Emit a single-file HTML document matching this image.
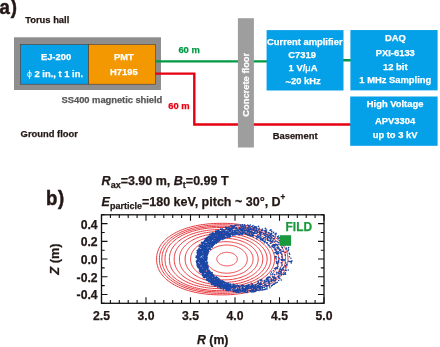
<!DOCTYPE html>
<html><head><meta charset="utf-8"><style>
html,body{margin:0;padding:0;background:#fff;}
svg{display:block;font-family:"Liberation Sans", sans-serif;will-change:transform;}
</style></head><body>
<svg width="440" height="347" viewBox="0 0 440 347">
<text transform="translate(-0.4 14.0) scale(0.93 1)" font-size="20" font-weight="bold" fill="#231815" stroke="#231815" stroke-width="0.5" letter-spacing="1.0">a)</text>
<text x="25.2" y="23" font-size="9.4" font-weight="bold" fill="#231815" stroke="#231815" stroke-width="0.25">Torus hall</text>
<text x="20.6" y="136.6" font-size="9.4" font-weight="bold" fill="#231815" stroke="#231815" stroke-width="0.25">Ground floor</text>
<text x="272.7" y="139" font-size="9.4" font-weight="bold" fill="#231815" stroke="#231815" stroke-width="0.25">Basement</text>
<rect x="14" y="37.3" width="147" height="52.7" fill="#8e8e8e"/>
<rect x="20.4" y="44.5" width="68.2" height="39.7" fill="#04a0e8" stroke="#4a3c36" stroke-width="0.6"/>
<rect x="88.6" y="44.5" width="66.7" height="39.7" fill="#f39800" stroke="#4a3c36" stroke-width="0.6"/>
<text x="56" y="59.7" font-size="9.4" font-weight="bold" fill="#fff" text-anchor="middle" stroke="#fff" stroke-width="0.25">EJ-200</text>
<text x="55" y="77.2" font-size="9.4" font-weight="bold" fill="#fff" text-anchor="middle" stroke="#fff" stroke-width="0.25"><tspan font-weight="normal" stroke-width="0" font-size="8.8">ϕ</tspan> 2 in., t 1 in.</text>
<text x="123.8" y="59.6" font-size="9.4" font-weight="bold" fill="#fff" text-anchor="middle" stroke="#fff" stroke-width="0.25">PMT</text>
<text x="123.8" y="75.2" font-size="9.4" font-weight="bold" fill="#fff" text-anchor="middle" stroke="#fff" stroke-width="0.25">H7195</text>
<text x="61.6" y="103" font-size="9.4" font-weight="bold" fill="#595757" textLength="100.7" lengthAdjust="spacing" stroke="#595757" stroke-width="0.25">SS400 magnetic shield</text>
<path d="M155 61.45H267M343 60.25H351" stroke="#009944" stroke-width="2.3" fill="none"/>
<path d="M155 73.6H194.3V124.45H351" stroke="#e60012" stroke-width="2.4" fill="none"/>
<text x="178.4" y="52.7" font-size="9.4" font-weight="bold" fill="#009944" stroke="#009944" stroke-width="0.25">60 m</text>
<text x="168.3" y="109" font-size="9.4" font-weight="bold" fill="#e60012" stroke="#e60012" stroke-width="0.25">60 m</text>
<rect x="237.9" y="18.2" width="16" height="129.3" fill="#9e9e9e"/>
<text transform="translate(249.3 84.8) rotate(-90)" font-size="9.4" font-weight="bold" fill="#fff" text-anchor="middle" stroke="#fff" stroke-width="0.25">Concrete floor</text>
<rect x="266.6" y="30.1" width="76.9" height="60.4" fill="#04a0e8"/>
<text x="304.8" y="44.7" font-size="9.4" font-weight="bold" fill="#fff" text-anchor="middle" stroke="#fff" stroke-width="0.25">Current amplifier</text>
<text x="302.1" y="57.7" font-size="9.4" font-weight="bold" fill="#fff" text-anchor="middle" stroke="#fff" stroke-width="0.25">C7319</text>
<text x="303" y="71.2" font-size="9.4" font-weight="bold" fill="#fff" text-anchor="middle" stroke="#fff" stroke-width="0.25">1 V/<tspan font-weight="normal">μ</tspan>A</text>
<text x="303.1" y="84.4" font-size="9.4" font-weight="bold" fill="#fff" text-anchor="middle" stroke="#fff" stroke-width="0.25"><tspan dy="0.7">~</tspan><tspan dy="-0.7">20 kHz</tspan></text>
<rect x="350.4" y="30.05" width="87.2" height="60.3" fill="#04a0e8"/>
<text x="395.3" y="41.2" font-size="9.4" font-weight="bold" fill="#fff" text-anchor="middle" stroke="#fff" stroke-width="0.25">DAQ</text>
<text x="395.3" y="55.7" font-size="9.4" font-weight="bold" fill="#fff" text-anchor="middle" stroke="#fff" stroke-width="0.25">PXI-6133</text>
<text x="395.3" y="69.5" font-size="9.4" font-weight="bold" fill="#fff" text-anchor="middle" stroke="#fff" stroke-width="0.25">12 bit</text>
<text x="395.3" y="83.4" font-size="9.4" font-weight="bold" fill="#fff" text-anchor="middle" stroke="#fff" stroke-width="0.25">1 MHz Sampling</text>
<rect x="350.2" y="96.5" width="87.4" height="49.3" fill="#04a0e8"/>
<text x="395.1" y="107.3" font-size="9.4" font-weight="bold" fill="#fff" text-anchor="middle" stroke="#fff" stroke-width="0.25">High Voltage</text>
<text x="395.1" y="123.6" font-size="9.4" font-weight="bold" fill="#fff" text-anchor="middle" stroke="#fff" stroke-width="0.25">APV3304</text>
<text x="395.1" y="137.5" font-size="9.4" font-weight="bold" fill="#fff" text-anchor="middle" stroke="#fff" stroke-width="0.25">up to 3 kV</text>
<text transform="translate(45.9 204.8) scale(0.93 1)" font-size="20" font-weight="bold" fill="#231815" stroke="#231815" stroke-width="0.5" letter-spacing="0.9">b)</text>
<text x="101.6" y="185" font-size="12.5" font-weight="bold" fill="#231815" stroke="#231815" stroke-width="0.25"><tspan font-style="italic">R</tspan><tspan dy="3.0" font-size="9">ax</tspan><tspan dy="-3.0">=3.90 m, </tspan><tspan font-style="italic">B</tspan><tspan dy="3.0" font-size="9">t</tspan><tspan dy="-3.0">=0.99 T</tspan></text>
<text x="101.6" y="205.5" font-size="12.5" font-weight="bold" fill="#231815" stroke="#231815" stroke-width="0.25"><tspan font-style="italic">E</tspan><tspan dy="3.0" font-size="9">particle</tspan><tspan dy="-3.0">=180 keV, pitch ~ 30°, D</tspan><tspan dy="-5.6" font-size="8.2">+</tspan></text>
<path d="M237.30 259.10L237.29 258.83L237.27 258.57L237.23 258.30L237.17 258.04L237.10 257.77L237.02 257.51L236.92 257.25L236.80 257.00L236.67 256.75L236.52 256.50L236.36 256.25L236.18 256.01L235.99 255.78L235.79 255.55L235.57 255.32L235.34 255.10L235.10 254.89L234.84 254.68L234.58 254.48L234.30 254.29L234.01 254.11L233.71 253.93L233.40 253.76L233.07 253.60L232.74 253.45L232.41 253.30L232.06 253.17L231.70 253.04L231.34 252.92L230.97 252.82L230.60 252.72L230.22 252.63L229.83 252.56L229.44 252.49L229.05 252.43L228.65 252.38L228.25 252.35L227.85 252.32L227.45 252.31L227.05 252.30L226.65 252.31L226.25 252.32L225.85 252.35L225.45 252.38L225.05 252.43L224.66 252.49L224.27 252.56L223.88 252.63L223.50 252.72L223.13 252.82L222.76 252.92L222.40 253.04L222.04 253.17L221.69 253.30L221.36 253.45L221.03 253.60L220.70 253.76L220.39 253.93L220.09 254.11L219.80 254.29L219.52 254.48L219.26 254.68L219.00 254.89L218.76 255.10L218.53 255.32L218.31 255.55L218.11 255.78L217.92 256.01L217.74 256.25L217.58 256.50L217.43 256.75L217.30 257.00L217.18 257.25L217.08 257.51L217.00 257.77L216.93 258.04L216.87 258.30L216.83 258.57L216.81 258.83L216.80 259.10L216.81 259.37L216.83 259.63L216.87 259.90L216.93 260.16L217.00 260.43L217.08 260.69L217.18 260.95L217.30 261.20L217.43 261.45L217.58 261.70L217.74 261.95L217.92 262.19L218.11 262.42L218.31 262.65L218.53 262.88L218.76 263.10L219.00 263.31L219.26 263.52L219.52 263.72L219.80 263.91L220.09 264.09L220.39 264.27L220.70 264.44L221.03 264.60L221.36 264.75L221.69 264.90L222.04 265.03L222.40 265.16L222.76 265.28L223.13 265.38L223.50 265.48L223.88 265.57L224.27 265.64L224.66 265.71L225.05 265.77L225.45 265.82L225.85 265.85L226.25 265.88L226.65 265.89L227.05 265.90L227.45 265.89L227.85 265.88L228.25 265.85L228.65 265.82L229.05 265.77L229.44 265.71L229.83 265.64L230.22 265.57L230.60 265.48L230.97 265.38L231.34 265.28L231.70 265.16L232.06 265.03L232.41 264.90L232.74 264.75L233.07 264.60L233.40 264.44L233.71 264.27L234.01 264.09L234.30 263.91L234.58 263.72L234.84 263.52L235.10 263.31L235.34 263.10L235.57 262.88L235.79 262.65L235.99 262.42L236.18 262.19L236.36 261.95L236.52 261.70L236.67 261.45L236.80 261.20L236.92 260.95L237.02 260.69L237.10 260.43L237.17 260.16L237.23 259.90L237.27 259.63L237.29 259.37ZM247.30 259.10L247.28 258.54L247.24 257.98L247.16 257.43L247.05 256.88L246.91 256.33L246.74 255.79L246.53 255.25L246.30 254.72L246.04 254.20L245.75 253.68L245.42 253.18L245.07 252.68L244.70 252.19L244.29 251.71L243.86 251.25L243.40 250.79L242.92 250.35L242.41 249.93L241.87 249.51L241.32 249.12L240.74 248.73L240.14 248.37L239.52 248.02L238.88 247.68L238.22 247.37L237.54 247.07L236.85 246.79L236.14 246.53L235.41 246.29L234.68 246.07L233.93 245.87L233.17 245.69L232.39 245.53L231.61 245.39L230.83 245.27L230.03 245.17L229.23 245.10L228.43 245.04L227.62 245.01L226.80 245.00L225.96 245.01L225.14 245.04L224.33 245.10L223.52 245.17L222.72 245.27L221.93 245.38L221.15 245.52L220.37 245.68L219.61 245.86L218.86 246.06L218.12 246.28L217.40 246.52L216.69 246.78L216.00 247.05L215.33 247.35L214.67 247.66L214.03 247.99L213.42 248.34L212.82 248.71L212.24 249.09L211.69 249.48L211.16 249.89L210.65 250.32L210.17 250.76L209.72 251.21L209.29 251.67L208.88 252.15L208.51 252.64L208.16 253.13L207.84 253.64L207.55 254.16L207.29 254.68L207.06 255.21L206.86 255.75L206.69 256.29L206.55 256.84L206.44 257.40L206.36 257.96L206.32 258.52L206.30 259.10L206.32 259.68L206.36 260.24L206.44 260.80L206.55 261.36L206.69 261.91L206.86 262.45L207.06 262.99L207.29 263.52L207.55 264.04L207.84 264.56L208.16 265.07L208.51 265.56L208.88 266.05L209.29 266.53L209.72 266.99L210.17 267.44L210.65 267.88L211.16 268.31L211.69 268.72L212.24 269.11L212.82 269.49L213.42 269.86L214.03 270.21L214.67 270.54L215.33 270.85L216.00 271.15L216.69 271.42L217.40 271.68L218.12 271.92L218.86 272.14L219.61 272.34L220.37 272.52L221.15 272.68L221.93 272.82L222.72 272.93L223.52 273.03L224.33 273.10L225.14 273.16L225.96 273.19L226.80 273.20L227.62 273.19L228.43 273.16L229.23 273.10L230.03 273.03L230.83 272.93L231.61 272.81L232.39 272.67L233.17 272.51L233.93 272.33L234.68 272.13L235.41 271.91L236.14 271.67L236.85 271.41L237.54 271.13L238.22 270.83L238.88 270.52L239.52 270.18L240.14 269.83L240.74 269.47L241.32 269.08L241.87 268.69L242.41 268.27L242.92 267.85L243.40 267.41L243.86 266.95L244.29 266.49L244.70 266.01L245.07 265.52L245.42 265.02L245.75 264.52L246.04 264.00L246.30 263.48L246.53 262.95L246.74 262.41L246.91 261.87L247.05 261.32L247.16 260.77L247.24 260.22L247.28 259.66ZM253.10 259.10L253.08 258.40L253.02 257.71L252.91 257.02L252.77 256.34L252.58 255.66L252.36 254.99L252.09 254.33L251.79 253.67L251.44 253.02L251.06 252.39L250.63 251.76L250.17 251.15L249.68 250.55L249.14 249.96L248.58 249.39L247.97 248.83L247.34 248.28L246.67 247.76L245.96 247.25L245.23 246.76L244.47 246.29L243.68 245.84L242.86 245.41L242.02 245.00L241.15 244.61L240.26 244.24L239.35 243.90L238.41 243.58L237.46 243.29L236.48 243.01L235.49 242.77L234.49 242.54L233.47 242.35L232.44 242.18L231.40 242.03L230.35 241.91L229.29 241.82L228.22 241.75L227.14 241.71L226.05 241.70L224.90 241.71L223.79 241.75L222.70 241.82L221.62 241.91L220.56 242.03L219.51 242.17L218.47 242.34L217.45 242.53L216.44 242.75L215.45 242.99L214.48 243.26L213.53 243.55L212.60 243.87L211.69 244.21L210.80 244.57L209.94 244.95L209.11 245.35L208.30 245.78L207.51 246.23L206.76 246.69L206.04 247.18L205.34 247.68L204.68 248.20L204.05 248.74L203.46 249.29L202.90 249.86L202.37 250.45L201.88 251.05L201.43 251.66L201.01 252.28L200.63 252.92L200.29 253.57L199.99 254.22L199.73 254.89L199.51 255.57L199.32 256.25L199.18 256.95L199.08 257.65L199.02 258.36L199.00 259.10L199.02 259.84L199.08 260.55L199.18 261.25L199.32 261.95L199.51 262.63L199.73 263.31L199.99 263.98L200.29 264.63L200.63 265.28L201.01 265.92L201.43 266.54L201.88 267.15L202.37 267.75L202.90 268.34L203.46 268.91L204.05 269.46L204.68 270.00L205.34 270.52L206.04 271.02L206.76 271.51L207.51 271.97L208.30 272.42L209.11 272.85L209.94 273.25L210.80 273.63L211.69 273.99L212.60 274.33L213.53 274.65L214.48 274.94L215.45 275.21L216.44 275.45L217.45 275.67L218.47 275.86L219.51 276.03L220.56 276.17L221.62 276.29L222.70 276.38L223.79 276.45L224.90 276.49L226.05 276.50L227.14 276.49L228.22 276.45L229.29 276.38L230.35 276.29L231.40 276.17L232.44 276.02L233.47 275.85L234.49 275.66L235.49 275.43L236.48 275.19L237.46 274.91L238.41 274.62L239.35 274.30L240.26 273.96L241.15 273.59L242.02 273.20L242.86 272.79L243.68 272.36L244.47 271.91L245.23 271.44L245.96 270.95L246.67 270.44L247.34 269.92L247.97 269.37L248.58 268.81L249.14 268.24L249.68 267.65L250.17 267.05L250.63 266.44L251.06 265.81L251.44 265.18L251.79 264.53L252.09 263.87L252.36 263.21L252.58 262.54L252.77 261.86L252.91 261.18L253.02 260.49L253.08 259.80ZM258.20 259.10L258.17 258.25L258.10 257.42L257.97 256.59L257.79 255.77L257.56 254.96L257.28 254.16L256.95 253.36L256.57 252.58L256.14 251.81L255.66 251.05L255.13 250.30L254.56 249.56L253.94 248.85L253.28 248.14L252.57 247.46L251.82 246.79L251.02 246.15L250.19 245.52L249.31 244.91L248.40 244.33L247.45 243.77L246.47 243.23L245.45 242.72L244.40 242.23L243.32 241.77L242.20 241.33L241.06 240.92L239.90 240.54L238.70 240.19L237.49 239.86L236.25 239.57L235.00 239.31L233.72 239.07L232.43 238.87L231.13 238.69L229.81 238.55L228.48 238.44L227.14 238.36L225.78 238.32L224.40 238.30L222.91 238.32L221.49 238.36L220.11 238.44L218.75 238.55L217.40 238.69L216.08 238.85L214.78 239.05L213.50 239.28L212.24 239.54L211.01 239.83L209.80 240.14L208.61 240.49L207.45 240.86L206.32 241.26L205.22 241.69L204.15 242.14L203.11 242.62L202.10 243.13L201.13 243.65L200.20 244.21L199.30 244.78L198.44 245.38L197.62 246.00L196.84 246.64L196.11 247.30L195.41 247.97L194.76 248.67L194.16 249.38L193.60 250.11L193.08 250.86L192.62 251.62L192.20 252.39L191.82 253.18L191.50 253.98L191.23 254.80L191.00 255.62L190.83 256.46L190.70 257.31L190.63 258.18L190.60 259.10L190.63 260.02L190.70 260.89L190.83 261.74L191.00 262.58L191.23 263.40L191.50 264.22L191.82 265.02L192.20 265.81L192.62 266.58L193.08 267.34L193.60 268.09L194.16 268.82L194.76 269.53L195.41 270.23L196.11 270.90L196.84 271.56L197.62 272.20L198.44 272.82L199.30 273.42L200.20 273.99L201.13 274.55L202.10 275.07L203.11 275.58L204.15 276.06L205.22 276.51L206.32 276.94L207.45 277.34L208.61 277.71L209.80 278.06L211.01 278.37L212.24 278.66L213.50 278.92L214.78 279.15L216.08 279.35L217.40 279.51L218.75 279.65L220.11 279.76L221.49 279.84L222.91 279.88L224.40 279.90L225.78 279.88L227.14 279.84L228.48 279.76L229.81 279.65L231.13 279.51L232.43 279.33L233.72 279.13L235.00 278.89L236.25 278.63L237.49 278.34L238.70 278.01L239.90 277.66L241.06 277.28L242.20 276.87L243.32 276.43L244.40 275.97L245.45 275.48L246.47 274.97L247.45 274.43L248.40 273.87L249.31 273.29L250.19 272.68L251.02 272.05L251.82 271.41L252.57 270.74L253.28 270.06L253.94 269.35L254.56 268.64L255.13 267.90L255.66 267.15L256.14 266.39L256.57 265.62L256.95 264.84L257.28 264.04L257.56 263.24L257.79 262.43L257.97 261.61L258.10 260.78L258.17 259.95ZM262.80 259.10L262.77 258.14L262.68 257.19L262.54 256.26L262.33 255.34L262.07 254.43L261.74 253.53L261.36 252.64L260.93 251.76L260.44 250.89L259.89 250.04L259.29 249.20L258.63 248.38L257.92 247.58L257.16 246.80L256.35 246.03L255.49 245.28L254.58 244.56L253.62 243.86L252.62 243.18L251.58 242.53L250.49 241.90L249.36 241.30L248.19 240.73L246.99 240.18L245.74 239.67L244.47 239.18L243.16 238.73L241.82 238.30L240.45 237.91L239.05 237.55L237.63 237.22L236.19 236.92L234.72 236.66L233.24 236.43L231.74 236.24L230.22 236.08L228.68 235.96L227.13 235.87L225.56 235.82L223.95 235.80L222.17 235.82L220.51 235.87L218.89 235.95L217.31 236.07L215.76 236.23L214.23 236.41L212.73 236.63L211.25 236.89L209.81 237.17L208.39 237.49L207.00 237.84L205.64 238.23L204.31 238.64L203.01 239.08L201.75 239.56L200.53 240.06L199.34 240.59L198.19 241.15L197.09 241.74L196.02 242.35L195.00 242.99L194.02 243.65L193.09 244.34L192.20 245.05L191.36 245.79L190.57 246.54L189.83 247.32L189.14 248.12L188.51 248.93L187.92 249.77L187.39 250.62L186.91 251.49L186.49 252.37L186.12 253.27L185.81 254.19L185.56 255.12L185.36 256.07L185.21 257.04L185.13 258.03L185.10 259.10L185.13 260.17L185.21 261.16L185.36 262.13L185.56 263.08L185.81 264.01L186.12 264.93L186.49 265.83L186.91 266.71L187.39 267.58L187.92 268.43L188.51 269.27L189.14 270.08L189.83 270.88L190.57 271.66L191.36 272.41L192.20 273.15L193.09 273.86L194.02 274.55L195.00 275.21L196.02 275.85L197.09 276.46L198.19 277.05L199.34 277.61L200.53 278.14L201.75 278.64L203.01 279.12L204.31 279.56L205.64 279.97L207.00 280.36L208.39 280.71L209.81 281.03L211.25 281.31L212.73 281.57L214.23 281.79L215.76 281.97L217.31 282.13L218.89 282.25L220.51 282.33L222.17 282.38L223.95 282.40L225.56 282.38L227.13 282.33L228.68 282.24L230.22 282.12L231.74 281.96L233.24 281.77L234.72 281.54L236.19 281.28L237.63 280.98L239.05 280.65L240.45 280.29L241.82 279.90L243.16 279.47L244.47 279.02L245.74 278.53L246.99 278.02L248.19 277.47L249.36 276.90L250.49 276.30L251.58 275.67L252.62 275.02L253.62 274.34L254.58 273.64L255.49 272.92L256.35 272.17L257.16 271.40L257.92 270.62L258.63 269.82L259.29 269.00L259.89 268.16L260.44 267.31L260.93 266.44L261.36 265.56L261.74 264.67L262.07 263.77L262.33 262.86L262.54 261.94L262.68 261.01L262.77 260.06ZM267.10 259.10L267.07 258.02L266.97 256.98L266.80 255.95L266.57 254.93L266.27 253.93L265.91 252.93L265.49 251.95L265.00 250.98L264.44 250.03L263.83 249.09L263.15 248.17L262.41 247.27L261.62 246.38L260.76 245.52L259.85 244.68L258.88 243.86L257.86 243.06L256.78 242.29L255.65 241.55L254.48 240.83L253.25 240.15L251.98 239.49L250.66 238.86L249.31 238.26L247.91 237.69L246.47 237.16L244.99 236.66L243.48 236.19L241.94 235.76L240.36 235.36L238.76 235.00L237.13 234.68L235.47 234.39L233.80 234.14L232.09 233.93L230.37 233.76L228.63 233.62L226.87 233.53L225.09 233.47L223.25 233.45L221.17 233.47L219.25 233.52L217.40 233.62L215.60 233.75L213.83 233.91L212.10 234.12L210.40 234.36L208.73 234.63L207.10 234.94L205.49 235.29L203.93 235.67L202.40 236.09L200.90 236.54L199.45 237.02L198.03 237.54L196.66 238.09L195.33 238.67L194.04 239.28L192.80 239.92L191.60 240.59L190.46 241.29L189.36 242.01L188.32 242.77L187.33 243.54L186.39 244.35L185.51 245.18L184.68 246.03L183.91 246.90L183.20 247.80L182.55 248.71L181.96 249.65L181.42 250.61L180.95 251.58L180.54 252.58L180.19 253.59L179.91 254.62L179.69 255.68L179.53 256.76L179.43 257.88L179.40 259.10L179.43 260.32L179.53 261.44L179.69 262.52L179.91 263.58L180.19 264.61L180.54 265.62L180.95 266.62L181.42 267.59L181.96 268.55L182.55 269.49L183.20 270.40L183.91 271.30L184.68 272.17L185.51 273.02L186.39 273.85L187.33 274.66L188.32 275.43L189.36 276.19L190.46 276.91L191.60 277.61L192.80 278.28L194.04 278.92L195.33 279.53L196.66 280.11L198.03 280.66L199.45 281.18L200.90 281.66L202.40 282.11L203.93 282.53L205.49 282.91L207.10 283.26L208.73 283.57L210.40 283.84L212.10 284.08L213.83 284.29L215.60 284.45L217.40 284.58L219.25 284.68L221.17 284.73L223.25 284.75L225.09 284.73L226.87 284.67L228.63 284.58L230.37 284.44L232.09 284.27L233.80 284.06L235.47 283.81L237.13 283.52L238.76 283.20L240.36 282.84L241.94 282.44L243.48 282.01L244.99 281.54L246.47 281.04L247.91 280.51L249.31 279.94L250.66 279.34L251.98 278.71L253.25 278.05L254.48 277.37L255.65 276.65L256.78 275.91L257.86 275.14L258.88 274.34L259.85 273.52L260.76 272.68L261.62 271.82L262.41 270.93L263.15 270.03L263.83 269.11L264.44 268.17L265.00 267.22L265.49 266.25L265.91 265.27L266.27 264.27L266.57 263.27L266.80 262.25L266.97 261.22L267.07 260.18ZM270.90 259.10L270.86 257.92L270.75 256.79L270.57 255.67L270.32 254.57L269.99 253.48L269.60 252.40L269.13 251.34L268.59 250.29L267.98 249.26L267.31 248.25L266.56 247.25L265.75 246.28L264.88 245.33L263.94 244.40L262.93 243.49L261.87 242.61L260.74 241.75L259.56 240.92L258.32 240.12L257.03 239.35L255.68 238.61L254.28 237.90L252.84 237.22L251.34 236.57L249.80 235.96L248.22 235.39L246.59 234.85L244.93 234.35L243.23 233.89L241.49 233.46L239.72 233.07L237.93 232.72L236.10 232.42L234.24 232.15L232.37 231.92L230.46 231.73L228.54 231.59L226.59 231.48L224.60 231.42L222.55 231.40L220.17 231.42L218.02 231.48L215.95 231.58L213.94 231.72L211.98 231.90L210.06 232.11L208.18 232.37L206.33 232.66L204.53 233.00L202.76 233.37L201.04 233.77L199.36 234.22L197.71 234.70L196.12 235.22L194.56 235.77L193.06 236.36L191.60 236.98L190.19 237.63L188.83 238.32L187.52 239.03L186.27 239.78L185.08 240.56L183.93 241.37L182.85 242.20L181.83 243.07L180.86 243.96L179.96 244.87L179.12 245.81L178.35 246.78L177.63 247.76L176.99 248.78L176.41 249.81L175.89 250.86L175.44 251.94L175.06 253.04L174.75 254.17L174.51 255.32L174.34 256.50L174.23 257.74L174.20 259.10L174.23 260.46L174.34 261.70L174.51 262.88L174.75 264.03L175.06 265.16L175.44 266.26L175.89 267.34L176.41 268.39L176.99 269.42L177.63 270.44L178.35 271.42L179.12 272.39L179.96 273.33L180.86 274.24L181.83 275.13L182.85 276.00L183.93 276.83L185.08 277.64L186.27 278.42L187.52 279.17L188.83 279.88L190.19 280.57L191.60 281.22L193.06 281.84L194.56 282.43L196.12 282.98L197.71 283.50L199.36 283.98L201.04 284.43L202.76 284.83L204.53 285.20L206.33 285.54L208.18 285.83L210.06 286.09L211.98 286.30L213.94 286.48L215.95 286.62L218.02 286.72L220.17 286.78L222.55 286.80L224.60 286.78L226.59 286.72L228.54 286.61L230.46 286.47L232.37 286.28L234.24 286.05L236.10 285.78L237.93 285.48L239.72 285.13L241.49 284.74L243.23 284.31L244.93 283.85L246.59 283.35L248.22 282.81L249.80 282.24L251.34 281.63L252.84 280.98L254.28 280.30L255.68 279.59L257.03 278.85L258.32 278.08L259.56 277.28L260.74 276.45L261.87 275.59L262.93 274.71L263.94 273.80L264.88 272.87L265.75 271.92L266.56 270.95L267.31 269.95L267.98 268.94L268.59 267.91L269.13 266.86L269.60 265.80L269.99 264.72L270.32 263.63L270.57 262.53L270.75 261.41L270.86 260.28ZM274.60 259.10L274.56 257.84L274.44 256.63L274.24 255.43L273.97 254.26L273.61 253.09L273.18 251.94L272.67 250.81L272.09 249.69L271.43 248.59L270.69 247.50L269.88 246.44L269.00 245.40L268.05 244.38L267.02 243.39L265.93 242.42L264.77 241.47L263.55 240.56L262.27 239.67L260.92 238.82L259.51 237.99L258.04 237.20L256.52 236.44L254.95 235.72L253.32 235.03L251.64 234.38L249.92 233.76L248.15 233.19L246.34 232.65L244.49 232.16L242.61 231.70L240.68 231.29L238.73 230.91L236.74 230.58L234.72 230.30L232.68 230.06L230.61 229.86L228.51 229.70L226.39 229.59L224.23 229.52L222.00 229.50L219.41 229.52L217.07 229.58L214.82 229.69L212.63 229.84L210.50 230.03L208.41 230.26L206.36 230.54L204.36 230.85L202.40 231.21L200.48 231.60L198.60 232.04L196.77 232.51L194.98 233.03L193.24 233.58L191.55 234.17L189.91 234.80L188.33 235.46L186.79 236.16L185.32 236.89L183.90 237.66L182.53 238.46L181.23 239.29L179.99 240.15L178.81 241.04L177.70 241.97L176.65 242.92L175.67 243.90L174.75 244.90L173.91 245.93L173.13 246.99L172.43 248.07L171.80 249.17L171.24 250.30L170.75 251.45L170.34 252.63L170.00 253.83L169.74 255.06L169.55 256.33L169.44 257.64L169.40 259.10L169.44 260.56L169.55 261.87L169.74 263.14L170.00 264.37L170.34 265.57L170.75 266.75L171.24 267.90L171.80 269.03L172.43 270.13L173.13 271.21L173.91 272.27L174.75 273.30L175.67 274.30L176.65 275.28L177.70 276.23L178.81 277.16L179.99 278.05L181.23 278.91L182.53 279.74L183.90 280.54L185.32 281.31L186.79 282.04L188.33 282.74L189.91 283.40L191.55 284.03L193.24 284.62L194.98 285.17L196.77 285.69L198.60 286.16L200.48 286.60L202.40 286.99L204.36 287.35L206.36 287.66L208.41 287.94L210.50 288.17L212.63 288.36L214.82 288.51L217.07 288.62L219.41 288.68L222.00 288.70L224.23 288.68L226.39 288.61L228.51 288.50L230.61 288.34L232.68 288.14L234.72 287.90L236.74 287.62L238.73 287.29L240.68 286.91L242.61 286.50L244.49 286.04L246.34 285.55L248.15 285.01L249.92 284.44L251.64 283.82L253.32 283.17L254.95 282.48L256.52 281.76L258.04 281.00L259.51 280.21L260.92 279.38L262.27 278.53L263.55 277.64L264.77 276.73L265.93 275.78L267.02 274.81L268.05 273.82L269.00 272.80L269.88 271.76L270.69 270.70L271.43 269.61L272.09 268.51L272.67 267.39L273.18 266.26L273.61 265.11L273.97 263.94L274.24 262.77L274.44 261.57L274.56 260.36ZM278.70 259.10L278.66 257.76L278.53 256.46L278.32 255.19L278.02 253.93L277.63 252.68L277.17 251.46L276.62 250.25L275.98 249.05L275.27 247.88L274.47 246.72L273.60 245.59L272.65 244.47L271.62 243.39L270.51 242.33L269.33 241.29L268.08 240.28L266.76 239.31L265.37 238.36L263.91 237.45L262.39 236.57L260.81 235.72L259.16 234.91L257.46 234.14L255.70 233.40L253.89 232.71L252.03 232.05L250.12 231.44L248.16 230.86L246.16 230.34L244.12 229.85L242.04 229.41L239.93 229.01L237.78 228.66L235.60 228.35L233.39 228.09L231.15 227.88L228.89 227.71L226.60 227.60L224.27 227.52L221.85 227.50L219.05 227.52L216.52 227.59L214.09 227.70L211.73 227.86L209.42 228.07L207.16 228.31L204.95 228.61L202.78 228.94L200.66 229.32L198.59 229.74L196.56 230.21L194.58 230.72L192.65 231.27L190.77 231.86L188.94 232.49L187.17 233.15L185.46 233.86L183.80 234.61L182.20 235.39L180.67 236.21L179.19 237.06L177.79 237.95L176.45 238.87L175.17 239.82L173.97 240.81L172.84 241.82L171.77 242.87L170.79 243.94L169.87 245.04L169.04 246.17L168.28 247.32L167.59 248.50L166.99 249.71L166.46 250.94L166.02 252.19L165.65 253.47L165.37 254.79L165.16 256.14L165.04 257.54L165.00 259.10L165.04 260.66L165.16 262.06L165.37 263.41L165.65 264.73L166.02 266.01L166.46 267.26L166.99 268.49L167.59 269.70L168.28 270.88L169.04 272.03L169.87 273.16L170.79 274.26L171.77 275.33L172.84 276.38L173.97 277.39L175.17 278.38L176.45 279.33L177.79 280.25L179.19 281.14L180.67 281.99L182.20 282.81L183.80 283.59L185.46 284.34L187.17 285.05L188.94 285.71L190.77 286.34L192.65 286.93L194.58 287.48L196.56 287.99L198.59 288.46L200.66 288.88L202.78 289.26L204.95 289.59L207.16 289.89L209.42 290.13L211.73 290.34L214.09 290.50L216.52 290.61L219.05 290.68L221.85 290.70L224.27 290.68L226.60 290.60L228.89 290.49L231.15 290.32L233.39 290.11L235.60 289.85L237.78 289.54L239.93 289.19L242.04 288.79L244.12 288.35L246.16 287.86L248.16 287.34L250.12 286.76L252.03 286.15L253.89 285.49L255.70 284.80L257.46 284.06L259.16 283.29L260.81 282.48L262.39 281.63L263.91 280.75L265.37 279.84L266.76 278.89L268.08 277.92L269.33 276.91L270.51 275.87L271.62 274.81L272.65 273.73L273.60 272.61L274.47 271.48L275.27 270.32L275.98 269.15L276.62 267.95L277.17 266.74L277.63 265.52L278.02 264.27L278.32 263.01L278.53 261.74L278.66 260.44ZM282.50 259.10L282.45 257.70L282.32 256.35L282.09 255.03L281.78 253.72L281.37 252.42L280.87 251.14L280.29 249.88L279.62 248.64L278.86 247.41L278.02 246.21L277.09 245.03L276.08 243.87L274.99 242.74L273.81 241.64L272.56 240.56L271.24 239.51L269.83 238.49L268.36 237.51L266.81 236.56L265.20 235.64L263.52 234.76L261.78 233.91L259.97 233.11L258.11 232.35L256.18 231.62L254.21 230.94L252.18 230.30L250.11 229.70L247.99 229.15L245.82 228.65L243.62 228.19L241.38 227.77L239.10 227.41L236.79 227.09L234.44 226.82L232.07 226.60L229.67 226.42L227.23 226.30L224.76 226.22L222.20 226.20L219.23 226.22L216.55 226.29L213.97 226.41L211.46 226.58L209.02 226.79L206.62 227.05L204.27 227.35L201.98 227.70L199.73 228.10L197.52 228.54L195.37 229.02L193.27 229.55L191.23 230.12L189.23 230.73L187.30 231.39L185.42 232.09L183.60 232.82L181.84 233.60L180.15 234.41L178.52 235.27L176.96 236.16L175.46 237.08L174.04 238.04L172.69 239.03L171.41 240.06L170.21 241.11L169.09 242.20L168.04 243.32L167.07 244.46L166.18 245.64L165.37 246.84L164.65 248.07L164.01 249.32L163.45 250.60L162.98 251.91L162.59 253.24L162.29 254.61L162.07 256.02L161.94 257.48L161.90 259.10L161.94 260.72L162.07 262.18L162.29 263.59L162.59 264.96L162.98 266.29L163.45 267.60L164.01 268.88L164.65 270.13L165.37 271.36L166.18 272.56L167.07 273.74L168.04 274.88L169.09 276.00L170.21 277.09L171.41 278.14L172.69 279.17L174.04 280.16L175.46 281.12L176.96 282.04L178.52 282.93L180.15 283.79L181.84 284.60L183.60 285.38L185.42 286.11L187.30 286.81L189.23 287.47L191.23 288.08L193.27 288.65L195.37 289.18L197.52 289.66L199.73 290.10L201.98 290.50L204.27 290.85L206.62 291.15L209.02 291.41L211.46 291.62L213.97 291.79L216.55 291.91L219.23 291.98L222.20 292.00L224.76 291.98L227.23 291.90L229.67 291.78L232.07 291.60L234.44 291.38L236.79 291.11L239.10 290.79L241.38 290.43L243.62 290.01L245.82 289.55L247.99 289.05L250.11 288.50L252.18 287.90L254.21 287.26L256.18 286.58L258.11 285.85L259.97 285.09L261.78 284.29L263.52 283.44L265.20 282.56L266.81 281.64L268.36 280.69L269.83 279.71L271.24 278.69L272.56 277.64L273.81 276.56L274.99 275.46L276.08 274.33L277.09 273.17L278.02 271.99L278.86 270.79L279.62 269.56L280.29 268.32L280.87 267.06L281.37 265.78L281.78 264.48L282.09 263.17L282.32 261.85L282.45 260.50ZM285.50 259.10L285.45 257.64L285.31 256.24L285.07 254.85L284.74 253.49L284.32 252.14L283.80 250.80L283.19 249.49L282.49 248.19L281.70 246.92L280.81 245.66L279.84 244.43L278.79 243.23L277.64 242.04L276.42 240.89L275.11 239.77L273.72 238.68L272.26 237.62L270.71 236.59L269.10 235.60L267.41 234.64L265.65 233.72L263.83 232.84L261.94 232.00L259.99 231.21L257.98 230.45L255.92 229.74L253.80 229.07L251.63 228.45L249.41 227.88L247.15 227.35L244.84 226.87L242.50 226.44L240.12 226.06L237.70 225.72L235.25 225.44L232.77 225.21L230.26 225.03L227.71 224.90L225.13 224.83L222.45 224.80L219.35 224.82L216.54 224.90L213.85 225.02L211.22 225.19L208.66 225.41L206.16 225.68L203.71 226.00L201.30 226.36L198.95 226.78L196.65 227.24L194.40 227.74L192.20 228.29L190.06 228.89L187.98 229.53L185.96 230.21L183.99 230.94L182.09 231.71L180.25 232.51L178.48 233.36L176.78 234.25L175.14 235.18L173.58 236.14L172.09 237.14L170.68 238.18L169.35 239.25L168.09 240.35L166.91 241.48L165.82 242.65L164.81 243.84L163.88 245.06L163.03 246.32L162.28 247.60L161.60 248.90L161.02 250.24L160.53 251.60L160.12 252.99L159.81 254.42L159.58 255.89L159.45 257.41L159.40 259.10L159.45 260.79L159.58 262.31L159.81 263.78L160.12 265.21L160.53 266.60L161.02 267.96L161.60 269.30L162.28 270.60L163.03 271.88L163.88 273.14L164.81 274.36L165.82 275.55L166.91 276.72L168.09 277.85L169.35 278.95L170.68 280.02L172.09 281.06L173.58 282.06L175.14 283.02L176.78 283.95L178.48 284.84L180.25 285.69L182.09 286.49L183.99 287.26L185.96 287.99L187.98 288.67L190.06 289.31L192.20 289.91L194.40 290.46L196.65 290.96L198.95 291.42L201.30 291.84L203.71 292.20L206.16 292.52L208.66 292.79L211.22 293.01L213.85 293.18L216.54 293.30L219.35 293.38L222.45 293.40L225.13 293.37L227.71 293.30L230.26 293.17L232.77 292.99L235.25 292.76L237.70 292.48L240.12 292.14L242.50 291.76L244.84 291.33L247.15 290.85L249.41 290.32L251.63 289.75L253.80 289.13L255.92 288.46L257.98 287.75L259.99 286.99L261.94 286.20L263.83 285.36L265.65 284.48L267.41 283.56L269.10 282.60L270.71 281.61L272.26 280.58L273.72 279.52L275.11 278.43L276.42 277.31L277.64 276.16L278.79 274.97L279.84 273.77L280.81 272.54L281.70 271.28L282.49 270.01L283.19 268.71L283.80 267.40L284.32 266.06L284.74 264.71L285.07 263.35L285.31 261.96L285.45 260.56ZM288.00 259.10L287.95 257.58L287.80 256.11L287.56 254.67L287.21 253.24L286.77 251.83L286.23 250.44L285.59 249.07L284.86 247.72L284.04 246.38L283.12 245.08L282.11 243.79L281.00 242.53L279.81 241.30L278.54 240.10L277.17 238.92L275.73 237.78L274.20 236.68L272.59 235.60L270.91 234.57L269.15 233.57L267.32 232.61L265.42 231.69L263.45 230.82L261.42 229.99L259.33 229.20L257.18 228.46L254.97 227.76L252.71 227.11L250.40 226.51L248.04 225.96L245.64 225.46L243.19 225.01L240.71 224.61L238.19 224.27L235.64 223.97L233.05 223.73L230.44 223.54L227.78 223.41L225.09 223.33L222.30 223.30L219.07 223.33L216.14 223.40L213.33 223.53L210.60 223.71L207.93 223.94L205.32 224.22L202.77 224.55L200.26 224.93L197.81 225.36L195.42 225.84L193.07 226.37L190.78 226.94L188.55 227.57L186.38 228.23L184.27 228.95L182.22 229.71L180.24 230.51L178.33 231.35L176.48 232.24L174.71 233.17L173.00 234.13L171.38 235.14L169.83 236.18L168.36 237.26L166.96 238.38L165.66 239.53L164.43 240.71L163.29 241.93L162.23 243.17L161.26 244.45L160.39 245.76L159.60 247.09L158.90 248.46L158.29 249.85L157.78 251.27L157.35 252.73L157.02 254.21L156.79 255.75L156.65 257.34L156.60 259.10L156.65 260.86L156.79 262.45L157.02 263.99L157.35 265.47L157.78 266.93L158.29 268.35L158.90 269.74L159.60 271.11L160.39 272.44L161.26 273.75L162.23 275.03L163.29 276.27L164.43 277.49L165.66 278.67L166.96 279.82L168.36 280.94L169.83 282.02L171.38 283.06L173.00 284.07L174.71 285.03L176.48 285.96L178.33 286.85L180.24 287.69L182.22 288.49L184.27 289.25L186.38 289.97L188.55 290.63L190.78 291.26L193.07 291.83L195.42 292.36L197.81 292.84L200.26 293.27L202.77 293.65L205.32 293.98L207.93 294.26L210.60 294.49L213.33 294.67L216.14 294.80L219.07 294.87L222.30 294.90L225.09 294.87L227.78 294.79L230.44 294.66L233.05 294.47L235.64 294.23L238.19 293.93L240.71 293.59L243.19 293.19L245.64 292.74L248.04 292.24L250.40 291.69L252.71 291.09L254.97 290.44L257.18 289.74L259.33 289.00L261.42 288.21L263.45 287.38L265.42 286.51L267.32 285.59L269.15 284.63L270.91 283.63L272.59 282.60L274.20 281.52L275.73 280.42L277.17 279.28L278.54 278.10L279.81 276.90L281.00 275.67L282.11 274.41L283.12 273.12L284.04 271.82L284.86 270.48L285.59 269.13L286.23 267.76L286.77 266.37L287.21 264.96L287.56 263.53L287.80 262.09L287.95 260.62Z" fill="none" stroke="#e8383d" stroke-width="1.0"/>
<path d="M224.0 231.8h0M215.6 237.4h0M285.3 245.0h0M212.7 281.6h0M232.8 235.2h0M216.0 282.4h0M204.6 246.1h0M199.3 265.0h0M245.0 289.0h0M227.9 288.0h0M219.9 285.1h0M262.5 287.4h0M265.7 231.0h0M213.8 243.8h0M268.6 280.3h0M263.3 238.2h0M239.0 231.2h0M200.5 262.5h0M254.7 287.3h0M275.2 250.2h0M282.1 259.8h0M213.4 278.1h0M205.9 257.6h0M266.2 288.7h0M203.4 267.3h0M229.6 287.0h0M204.3 266.0h0M240.0 289.1h0M249.2 233.9h0M199.0 255.1h0M242.2 286.4h0M206.2 238.2h0M275.7 236.0h0M221.4 238.8h0M215.2 286.0h0M259.7 284.6h0M240.2 233.5h0M198.0 250.6h0M201.6 259.8h0M256.2 236.3h0M203.3 269.5h0M243.1 227.1h0M203.5 249.1h0M204.1 250.6h0M240.7 225.3h0M219.0 286.6h0M198.2 256.7h0M204.8 263.0h0M205.8 249.1h0M237.9 230.6h0M240.4 225.4h0M277.1 244.6h0M218.2 279.4h0M218.6 230.8h0M206.4 264.5h0M253.9 232.9h0M203.4 259.7h0M204.0 268.7h0M202.2 258.7h0M216.8 281.0h0M241.1 233.6h0M224.0 284.2h0M228.8 237.0h0M201.7 260.0h0M277.6 252.8h0M207.4 237.6h0M215.4 284.1h0M198.4 259.5h0M229.8 284.3h0M202.8 269.9h0M242.2 289.1h0M238.9 286.4h0M210.8 237.7h0M219.2 281.3h0M230.4 236.4h0M222.4 287.0h0M206.8 254.1h0M206.8 251.4h0M206.7 273.9h0M206.7 258.0h0M229.6 233.6h0M266.9 285.8h0M210.2 234.1h0M210.6 249.3h0M243.0 230.1h0M208.1 267.5h0M233.1 226.7h0M218.8 232.7h0M219.3 284.5h0M264.4 235.1h0M267.3 238.4h0M240.9 225.6h0M208.4 245.1h0M216.4 279.8h0M205.9 238.5h0M289.7 254.2h0M241.9 233.4h0M218.1 282.8h0M252.6 291.1h0M273.8 236.4h0M203.3 264.5h0M201.5 251.4h0M247.8 225.1h0M224.4 283.5h0M247.6 232.1h0M239.9 286.8h0M262.2 289.0h0M204.1 259.4h0M277.1 268.3h0M288.6 247.6h0M221.1 229.4h0M222.1 284.3h0M220.6 238.8h0M215.0 233.7h0M197.6 253.6h0M279.9 278.6h0M278.7 253.3h0M218.3 230.2h0M234.9 286.8h0M281.6 269.5h0M211.3 240.7h0M223.9 234.5h0M242.2 234.6h0M281.1 243.2h0M205.4 243.0h0M219.8 287.3h0M216.1 240.9h0M207.8 273.1h0M272.6 274.1h0M208.4 273.6h0M283.5 269.9h0M269.6 235.3h0M225.6 285.5h0M207.2 268.1h0M218.3 280.0h0M233.5 226.4h0M215.1 233.3h0M256.0 227.5h0M208.8 243.3h0M199.8 269.6h0M216.7 241.2h0M284.4 273.6h0M210.4 239.3h0M251.8 287.0h0M259.5 232.4h0M279.8 278.5h0M205.1 268.6h0M206.3 246.5h0M214.5 277.8h0M203.3 252.0h0M205.8 247.3h0M214.2 282.6h0M216.5 240.8h0M197.3 257.7h0M284.4 273.2h0M278.8 273.8h0M261.3 230.4h0M251.5 288.3h0M210.8 272.6h0M212.7 242.8h0M217.0 237.7h0M224.0 281.8h0M212.0 279.1h0M276.5 256.8h0M209.5 273.1h0M243.0 233.5h0M250.4 286.8h0M202.4 271.3h0M239.0 291.8h0M212.4 245.7h0M207.4 268.8h0M198.2 260.7h0M229.1 227.0h0M241.5 290.8h0M272.8 242.1h0M238.6 230.3h0M269.2 277.4h0M242.1 292.0h0M226.2 290.4h0M203.9 248.0h0M210.1 282.0h0M222.6 239.2h0M214.0 282.8h0M213.7 234.4h0M275.6 269.0h0M233.6 234.5h0M227.1 237.4h0M234.5 287.0h0M206.1 248.3h0M264.9 230.6h0M198.5 257.5h0M220.7 237.2h0M200.5 259.2h0M228.7 288.5h0M213.7 244.1h0M255.6 227.1h0M273.8 278.7h0M219.1 282.6h0M222.1 282.9h0M207.0 273.3h0M258.8 229.7h0M266.0 234.9h0M237.4 292.2h0M238.1 286.5h0M250.9 236.0h0M227.8 288.1h0M208.2 278.1h0M206.7 273.1h0M225.0 286.3h0M214.5 280.7h0M204.3 241.3h0M250.0 288.5h0M200.4 267.5h0M202.3 266.5h0M197.1 263.8h0M214.0 243.6h0M209.6 242.8h0M219.6 237.3h0M198.6 264.6h0M205.5 254.6h0M213.8 283.8h0M199.5 269.2h0M237.9 232.7h0M234.4 232.5h0M217.4 280.9h0M218.9 278.8h0M242.1 234.1h0M217.0 231.5h0M264.7 284.4h0M238.6 233.7h0M202.0 253.4h0M268.6 281.5h0M210.4 247.1h0M197.8 261.2h0M210.7 282.4h0M204.8 264.3h0M206.1 268.7h0M201.9 260.1h0M252.3 287.2h0M218.4 278.6h0M205.5 267.6h0M217.7 286.3h0M213.1 280.8h0M221.1 286.8h0M212.5 235.4h0M229.4 233.4h0M273.4 270.7h0M206.9 272.8h0M203.5 277.2h0M250.6 235.6h0M267.8 240.2h0M237.3 289.3h0M289.4 256.7h0M237.3 291.3h0M215.3 237.9h0M255.3 288.4h0M208.3 236.4h0M230.9 225.6h0M220.4 229.0h0M226.3 228.5h0M207.0 278.2h0M239.6 228.4h0M202.4 272.7h0M256.3 289.3h0M210.8 278.0h0M199.6 250.7h0M202.5 274.6h0M210.8 274.7h0M216.3 237.8h0M212.8 237.2h0M208.9 276.5h0M204.3 257.1h0M241.3 233.1h0M205.9 239.1h0M215.2 283.4h0M215.7 232.2h0M220.8 281.0h0M229.9 228.9h0M240.9 230.3h0M259.3 228.3h0M199.5 249.5h0M270.6 234.2h0M266.6 279.6h0M221.5 234.7h0M222.5 285.3h0M258.5 226.4h0M272.5 276.4h0M255.5 284.7h0M203.0 264.2h0M208.8 271.0h0M253.4 235.3h0M236.3 228.5h0M211.0 272.6h0M234.8 291.3h0M204.7 256.4h0M215.9 238.5h0M202.1 263.5h0M225.3 233.8h0M201.1 258.4h0M262.4 229.0h0M230.4 284.0h0M206.6 263.4h0M282.1 251.3h0M207.8 242.2h0M209.4 271.0h0M208.1 238.0h0M220.8 236.2h0M242.8 228.9h0M206.1 260.7h0M270.2 277.6h0M201.7 267.7h0M207.0 249.0h0M238.0 229.9h0M267.9 239.9h0M201.6 267.8h0M201.2 251.9h0M244.3 230.1h0M268.9 283.0h0M264.7 235.4h0M208.5 251.3h0M239.3 288.2h0M208.9 280.5h0M199.9 254.2h0M271.2 281.4h0M203.2 272.7h0M213.0 239.2h0M211.5 242.1h0M206.3 250.5h0M202.6 275.7h0M256.6 227.1h0M200.8 271.6h0M202.7 263.1h0M217.0 234.1h0M212.6 237.7h0M199.1 246.6h0M263.3 289.8h0M226.3 289.9h0M265.6 235.0h0M216.0 280.3h0M253.5 289.5h0M222.1 285.1h0M214.5 285.5h0M267.4 242.7h0M200.7 263.5h0M225.2 234.5h0M207.3 274.0h0M216.8 277.4h0M262.1 290.1h0M245.0 228.0h0M251.8 285.9h0M203.9 270.9h0M278.0 248.8h0M234.3 234.9h0M267.0 287.1h0M218.8 236.8h0M209.7 274.0h0M271.7 281.5h0M211.2 239.7h0M275.1 245.4h0M204.5 270.8h0M228.3 235.4h0M207.0 240.3h0M272.5 235.6h0M205.7 243.5h0M220.5 239.0h0M277.3 253.7h0M213.4 283.5h0M241.7 228.0h0M232.8 227.1h0M244.9 227.7h0M242.4 290.8h0M265.6 289.1h0M226.7 288.9h0M201.8 244.8h0M257.5 287.4h0M207.5 267.4h0M252.9 234.3h0M245.1 230.1h0M216.2 232.8h0M221.8 233.2h0M222.3 284.1h0M219.1 240.6h0M231.0 285.4h0M219.7 240.6h0M243.6 290.5h0M205.3 247.4h0M214.5 284.9h0M242.8 234.1h0M231.0 229.1h0M222.1 230.6h0M200.2 269.3h0M201.7 271.4h0M203.6 259.6h0M227.3 286.4h0M204.0 245.2h0M220.4 232.2h0M264.2 233.6h0M199.1 250.0h0M259.0 287.8h0M205.6 271.9h0M222.6 239.5h0M201.8 249.5h0M206.3 244.4h0M199.6 268.8h0M202.1 265.0h0M205.5 272.4h0M209.0 243.4h0M235.0 291.0h0M250.3 290.7h0M213.4 237.8h0M230.6 290.1h0M201.2 272.0h0M219.4 232.9h0M210.7 234.7h0M209.6 277.4h0M241.6 230.1h0M278.0 237.9h0M233.0 232.6h0M199.5 266.7h0M220.5 234.3h0M285.5 252.4h0M209.8 240.5h0M210.5 274.4h0M208.1 272.8h0M222.3 234.3h0M236.8 230.7h0M197.3 264.8h0M217.0 279.8h0M227.9 229.2h0M219.2 236.5h0M204.6 257.0h0M268.7 237.8h0M230.3 236.0h0M236.1 292.5h0M209.1 272.8h0M217.6 236.8h0M204.1 257.2h0M260.7 237.2h0M208.7 278.3h0M273.5 232.8h0M253.3 228.0h0M226.5 283.4h0M213.6 280.3h0M197.1 250.8h0M236.2 285.9h0M247.7 291.3h0M206.0 275.3h0M240.6 289.9h0M226.0 227.4h0M206.3 263.9h0M220.6 283.1h0M243.4 285.7h0M205.3 260.1h0M271.7 231.4h0M251.3 292.0h0M219.6 236.0h0M212.6 245.1h0M215.7 279.8h0M248.1 227.2h0M202.0 272.5h0M234.5 230.5h0M225.3 285.8h0M214.3 234.4h0M275.1 256.5h0M238.8 286.4h0M220.3 231.9h0M247.2 234.2h0M202.3 259.8h0M216.3 231.1h0M236.9 232.6h0M200.9 261.1h0M226.4 286.9h0M233.7 287.6h0M212.9 241.8h0M213.2 277.5h0M274.3 274.5h0M210.2 274.4h0M213.2 239.8h0M223.7 286.7h0M207.6 280.4h0M205.4 264.2h0M202.0 264.5h0M199.9 250.5h0M266.6 242.9h0M205.4 264.3h0M228.9 286.5h0M216.6 239.8h0M214.6 241.5h0M236.5 232.7h0M217.1 280.5h0M215.5 277.5h0M232.8 287.0h0M217.7 235.0h0M215.8 239.8h0M213.3 238.8h0M198.7 251.6h0M197.7 256.7h0M207.0 241.0h0M247.4 287.1h0M277.1 241.5h0M233.2 284.7h0M204.3 275.1h0M224.5 238.4h0M239.6 232.1h0M206.3 262.6h0M240.0 234.4h0M201.2 253.0h0M205.6 269.3h0M207.2 270.5h0M203.6 277.3h0M214.4 284.2h0M204.3 270.0h0M231.1 228.4h0M251.8 234.1h0M209.9 245.5h0M261.1 239.6h0M226.9 235.7h0M269.9 287.7h0M214.6 241.2h0M203.2 253.0h0M267.1 289.0h0M231.0 228.4h0M206.6 267.4h0M260.1 280.1h0M219.1 233.7h0M201.3 249.8h0M230.6 230.9h0M203.0 252.6h0M217.0 234.7h0M206.4 256.7h0M205.5 259.4h0M204.1 266.3h0M253.4 233.4h0M274.4 277.7h0M226.6 288.7h0M197.9 262.8h0M212.8 274.7h0M260.2 288.8h0M211.4 247.0h0M225.6 285.3h0M253.0 225.6h0M199.3 254.6h0M215.2 281.9h0M215.7 231.0h0M202.2 246.2h0M286.2 270.4h0M247.2 230.9h0M232.3 289.5h0M207.2 241.8h0M206.4 277.0h0M281.9 256.4h0M222.6 235.0h0M232.1 232.8h0M222.7 282.2h0M264.7 289.6h0M201.7 259.4h0M258.3 282.4h0M205.7 252.2h0M203.0 269.6h0M205.2 249.5h0M212.4 237.1h0M218.9 240.2h0M202.0 269.9h0M242.9 288.4h0M276.0 278.6h0M232.7 231.6h0M210.9 237.5h0M219.1 235.0h0M239.8 287.7h0M208.7 236.5h0M280.5 269.7h0M206.4 238.2h0M248.7 285.7h0M201.7 270.9h0M233.2 233.0h0M219.1 238.1h0M201.0 268.9h0M216.4 282.9h0M208.0 239.9h0M255.2 284.8h0M197.7 263.5h0M199.3 259.4h0M202.7 272.8h0M245.0 291.5h0M274.9 280.8h0M259.1 284.1h0M219.4 239.9h0M267.9 237.1h0M271.8 242.3h0M204.8 244.7h0M208.7 242.2h0M276.8 262.5h0M232.4 287.2h0M233.7 228.1h0M256.2 230.1h0M235.7 286.4h0M235.4 287.0h0M216.4 280.4h0M215.4 233.6h0M275.3 241.3h0M260.9 286.5h0M242.6 224.9h0M238.3 290.9h0M212.1 272.6h0M198.3 251.4h0M222.3 229.5h0M255.9 227.1h0M210.3 274.6h0M216.6 281.7h0M207.5 241.2h0M229.4 284.4h0M207.5 238.3h0M287.8 251.1h0M262.4 239.2h0M203.6 269.3h0M252.5 284.5h0M208.4 240.1h0M252.1 234.8h0M217.0 233.3h0M229.4 234.3h0M246.5 286.1h0M209.2 276.7h0M217.0 283.7h0M271.5 279.4h0M230.5 233.3h0M242.8 287.2h0M198.6 265.9h0M212.1 234.2h0M215.3 286.2h0M283.8 240.7h0M226.0 288.0h0M241.1 228.2h0M207.1 275.5h0M278.4 248.8h0M199.4 258.5h0M259.7 233.5h0M236.7 292.4h0M235.9 233.4h0M219.7 285.4h0M211.6 239.2h0M218.2 239.8h0M217.8 241.2h0M233.4 228.2h0M249.8 231.5h0M275.0 283.1h0M204.9 248.3h0M258.4 237.6h0M201.9 253.7h0M242.3 291.5h0M205.7 263.9h0M237.7 288.7h0M223.5 282.4h0M260.7 232.6h0M239.5 287.0h0M217.5 285.0h0M277.9 276.7h0M251.0 231.3h0M223.3 289.4h0M202.2 261.6h0M198.0 250.0h0M222.3 239.1h0M259.4 283.9h0M233.8 287.0h0M268.0 234.7h0M246.6 229.3h0M204.6 240.7h0M232.1 225.9h0M198.6 264.6h0M274.6 238.2h0M203.6 272.8h0M214.5 236.3h0M212.2 281.0h0M199.6 254.1h0M248.6 225.8h0M215.0 234.6h0M249.8 235.5h0M206.1 244.7h0M217.9 237.1h0M212.4 284.5h0M228.4 227.9h0M255.9 230.8h0M283.2 245.6h0M291.4 261.4h0M222.1 235.9h0M240.1 234.3h0M215.3 278.6h0M222.3 237.2h0M279.7 250.4h0M247.8 228.4h0M244.3 230.6h0M250.5 228.5h0M278.6 277.4h0M227.4 230.0h0M273.0 246.0h0M206.3 253.8h0M215.7 236.6h0M199.9 256.3h0M198.7 254.7h0M212.6 279.1h0M279.1 275.9h0M206.5 249.1h0M246.2 286.1h0M206.2 265.8h0M209.6 249.1h0M278.7 236.0h0M232.4 228.4h0M221.0 236.8h0M223.8 230.7h0M203.3 242.8h0M222.1 230.7h0M214.7 239.6h0M213.9 283.8h0M259.1 288.2h0M222.5 235.0h0M275.4 280.7h0M205.1 267.4h0M267.9 279.7h0M247.0 234.3h0M199.7 251.3h0M215.6 280.8h0M205.1 272.4h0M197.4 255.4h0M212.9 233.1h0M276.9 274.0h0M215.7 234.0h0M203.2 246.3h0M229.1 229.6h0M206.9 259.6h0M208.1 269.7h0M218.4 239.3h0M256.8 288.3h0M206.9 245.5h0M219.3 232.6h0M200.8 262.3h0M204.9 274.8h0M278.5 272.7h0M217.3 281.0h0M254.9 232.1h0M261.0 238.0h0M204.9 248.5h0M270.6 234.0h0M218.4 236.9h0M202.3 273.0h0M214.9 280.6h0M201.6 269.6h0M212.9 234.8h0M220.2 234.2h0M254.1 286.4h0M215.9 238.1h0M217.0 281.6h0M251.0 287.6h0M236.2 227.5h0M264.8 237.7h0M208.2 268.1h0M277.5 263.9h0M217.1 279.8h0M216.5 237.5h0M260.0 234.6h0M206.7 265.2h0M202.2 273.7h0M207.4 238.8h0M271.2 234.5h0M206.7 243.5h0M227.3 234.3h0M226.2 234.7h0M244.4 290.5h0M204.0 276.4h0M206.6 249.5h0M235.3 290.0h0M202.4 273.1h0M209.8 242.8h0M206.5 266.4h0M274.3 277.1h0M222.0 238.1h0M270.9 241.4h0M205.0 255.2h0M212.0 282.9h0M225.9 284.8h0M207.5 269.1h0M202.4 258.2h0M203.7 277.1h0M291.2 262.9h0M227.7 235.3h0M211.1 282.8h0M200.9 267.9h0M275.6 249.6h0M232.9 285.5h0M227.7 237.2h0M212.3 273.9h0M261.1 283.2h0M212.9 244.8h0M236.9 230.8h0M215.7 278.1h0M218.3 238.7h0M255.2 287.3h0M212.3 247.1h0M244.6 230.4h0M247.2 289.8h0M200.4 260.0h0M206.3 245.6h0M270.1 230.4h0M266.6 230.0h0M213.5 280.5h0M199.3 261.5h0M212.7 243.6h0M221.0 232.8h0M228.6 284.7h0M199.1 257.0h0M228.7 290.8h0M255.0 286.5h0M235.2 290.4h0M208.6 249.5h0M213.3 283.6h0M216.6 243.1h0M206.8 275.3h0M202.7 256.6h0M249.4 230.3h0M221.3 285.6h0M196.8 262.4h0M232.2 228.4h0M237.6 288.7h0M215.1 234.9h0M223.5 287.2h0M212.8 232.9h0M246.8 233.6h0M203.6 257.7h0M202.0 242.9h0M271.6 285.7h0M247.5 285.8h0M212.2 243.4h0M213.8 239.8h0M226.7 284.2h0M214.0 276.6h0M210.2 272.1h0M212.9 276.0h0M204.1 243.0h0M211.1 236.3h0M278.5 261.7h0M214.5 243.6h0M208.3 250.6h0M281.2 259.5h0M232.8 230.6h0M203.2 261.4h0M221.3 233.6h0M204.4 265.0h0M208.0 245.7h0M221.2 284.5h0M254.1 290.8h0M224.3 285.9h0M218.8 281.4h0M211.2 279.2h0M213.3 278.0h0M211.6 279.9h0M244.0 288.5h0M219.2 284.5h0M197.0 263.4h0M226.2 289.9h0M221.8 235.9h0M215.8 278.9h0M207.2 249.3h0M238.3 285.7h0M214.0 276.8h0M250.8 286.1h0M212.7 243.3h0M206.8 261.2h0M253.9 228.2h0M197.0 264.0h0M252.8 290.3h0M216.2 281.0h0M201.6 247.3h0M202.8 269.6h0M257.2 232.9h0M213.6 242.5h0M202.0 255.0h0M256.7 228.6h0M228.7 234.1h0M216.9 241.1h0M238.5 291.2h0M243.0 232.6h0M242.1 230.7h0M236.1 286.6h0M253.7 228.8h0M214.4 243.8h0M201.8 247.1h0M220.8 284.1h0M207.9 269.8h0M285.9 263.1h0M273.6 236.1h0M222.2 281.4h0M212.0 274.8h0M253.3 288.2h0M238.4 292.0h0M215.1 238.6h0M214.5 241.6h0M218.3 282.1h0M279.7 237.9h0M244.7 286.4h0M207.8 244.8h0M211.5 273.3h0M230.6 236.2h0M205.9 255.7h0M272.1 245.9h0M243.2 226.6h0M205.0 241.1h0M227.7 289.0h0M234.6 233.0h0M205.3 259.3h0M235.1 287.7h0M206.9 280.1h0M200.6 270.8h0M212.2 278.8h0M220.6 283.9h0M280.2 252.2h0M228.3 288.6h0M197.4 261.9h0M267.3 285.8h0M272.1 279.9h0M259.6 236.8h0M223.9 235.6h0M209.9 236.5h0M241.2 233.5h0M204.2 260.4h0M206.8 268.1h0M207.2 240.3h0M211.3 282.4h0M215.2 238.6h0M215.0 284.9h0M205.0 253.4h0M258.9 288.1h0M256.8 238.6h0M208.8 274.1h0M217.7 281.2h0M252.2 236.1h0M205.0 244.4h0M211.6 273.4h0M212.2 280.3h0M206.8 240.8h0M245.6 291.4h0M273.3 277.6h0M212.1 279.2h0M284.5 259.9h0M211.7 280.6h0M288.3 270.0h0M254.9 287.3h0M203.3 264.3h0M242.8 231.6h0M205.4 258.5h0M207.8 267.9h0M271.5 237.1h0M198.1 260.2h0M249.3 226.3h0M211.6 284.5h0M224.5 288.6h0M242.1 233.1h0M222.4 287.1h0M256.0 284.6h0M260.1 238.6h0M205.2 251.5h0M206.1 265.4h0M251.2 232.4h0M197.6 254.6h0M207.5 271.2h0M204.3 260.7h0M198.3 254.9h0M220.5 284.9h0M198.3 252.1h0M285.4 265.8h0M288.8 261.2h0M205.7 254.1h0M249.0 230.9h0M217.8 240.8h0M204.4 250.5h0M208.7 275.5h0M196.0 257.3h0M286.3 248.0h0M208.0 266.3h0M226.1 289.3h0M221.8 281.2h0M235.4 233.3h0M233.1 290.2h0M213.6 243.1h0M206.5 265.6h0M269.3 286.1h0M228.9 230.0h0M218.5 234.0h0M216.6 242.7h0M200.2 268.2h0M243.1 285.4h0M204.4 254.5h0M214.1 282.8h0M200.2 266.3h0M220.7 235.7h0M267.4 236.4h0M200.0 271.3h0M223.5 236.6h0M226.6 228.3h0M273.5 238.7h0M199.2 264.9h0M206.3 255.6h0M269.7 277.2h0M217.6 234.7h0M208.9 247.7h0M236.3 233.7h0M254.8 288.5h0M203.3 255.0h0M217.8 231.9h0M285.5 270.2h0M235.2 290.2h0M212.2 239.8h0M203.9 268.0h0M223.5 288.7h0M237.2 285.1h0M211.4 275.4h0M237.9 233.8h0M254.6 226.5h0M274.4 268.5h0M237.6 290.2h0M257.8 290.1h0M245.2 228.2h0M196.3 261.2h0M224.7 236.9h0M229.8 234.1h0M248.9 286.9h0M276.6 263.1h0M217.2 282.9h0M217.0 283.7h0M206.1 272.5h0M205.3 270.5h0M286.6 264.9h0M211.2 274.8h0M207.7 254.1h0M245.6 227.6h0M209.4 237.6h0M207.5 253.5h0M197.3 253.2h0M210.5 274.0h0M273.1 238.7h0M259.7 288.9h0M210.7 277.0h0M221.8 238.0h0M227.1 227.8h0M204.9 275.7h0M208.0 250.1h0M251.5 231.4h0M199.3 253.8h0M226.9 285.4h0M216.5 236.9h0M261.8 232.5h0M207.6 249.2h0M206.1 268.6h0M217.4 232.0h0M221.9 281.4h0M201.0 264.8h0M217.8 231.1h0M218.6 238.1h0M218.3 281.6h0M281.2 262.7h0M221.8 282.1h0M260.8 233.3h0M250.3 286.5h0M251.9 285.2h0M265.2 241.3h0M200.9 269.5h0M202.0 266.2h0M224.9 232.8h0M229.1 286.6h0M204.3 253.2h0M218.7 236.3h0M206.7 268.8h0M229.6 234.6h0M204.6 269.1h0M280.9 273.8h0M286.5 248.9h0M248.5 288.6h0M212.1 243.1h0M223.7 287.8h0M214.0 235.8h0M285.4 267.0h0M269.9 233.2h0M220.8 281.3h0M225.6 233.7h0M202.4 249.7h0M260.4 284.8h0M249.4 232.8h0M229.4 230.6h0M233.5 288.1h0M206.3 253.7h0M204.0 256.8h0M271.9 241.6h0M263.7 283.0h0M264.4 287.4h0M238.3 231.0h0M216.7 239.2h0M221.8 239.0h0M198.3 249.9h0M236.0 224.9h0M207.4 269.6h0M206.7 265.9h0M259.6 231.5h0M275.1 234.1h0M213.1 275.0h0M210.8 274.3h0M281.4 237.2h0M203.0 254.8h0M252.1 284.8h0M280.9 274.7h0M210.9 278.5h0M213.0 277.0h0M206.5 268.9h0M220.0 282.8h0M201.0 254.5h0M283.0 259.4h0M211.8 283.5h0M216.5 236.7h0M203.2 259.5h0M210.5 241.7h0M270.4 234.6h0M204.0 265.4h0M258.8 286.4h0M251.5 285.0h0M203.5 242.1h0M278.0 266.3h0M277.7 262.0h0M229.7 289.8h0M205.3 272.8h0M228.5 235.8h0M210.4 279.6h0M213.4 243.3h0M280.6 271.7h0M198.0 266.9h0M209.5 274.1h0M251.6 285.8h0M264.5 242.8h0M252.8 233.7h0M209.6 245.5h0M239.3 286.1h0M199.7 250.3h0M205.5 260.6h0M223.0 286.5h0M265.7 228.8h0M213.8 241.0h0M245.7 233.9h0M270.6 235.7h0M243.5 289.5h0M271.7 231.8h0M206.2 264.7h0M197.1 265.2h0M197.7 266.7h0M234.3 291.5h0M201.7 247.7h0M199.2 256.0h0M202.0 258.8h0M204.6 254.8h0M277.0 247.7h0M214.2 243.5h0M234.7 231.9h0M252.5 285.6h0M205.0 239.1h0M210.9 275.6h0M207.1 265.3h0M214.2 285.0h0M275.0 277.6h0M255.3 291.1h0M202.4 254.5h0M205.5 259.0h0M269.3 281.8h0M198.1 260.6h0M263.4 233.7h0M199.6 253.2h0M201.1 249.2h0M197.1 260.2h0M200.1 250.6h0M276.6 262.2h0M267.1 277.9h0M233.9 288.4h0M208.5 272.7h0M268.9 240.6h0M247.0 292.4h0M251.4 229.0h0M279.5 258.8h0M209.4 278.1h0M204.7 262.7h0M275.0 241.4h0M206.3 273.8h0M199.9 245.0h0M207.1 273.9h0M200.6 260.4h0M215.7 279.8h0M204.6 259.1h0M225.0 285.6h0M214.1 235.7h0M248.8 234.9h0M202.5 262.6h0M196.9 260.6h0M209.2 276.4h0M283.3 251.6h0M219.4 280.8h0M218.4 231.4h0M267.8 278.6h0M200.4 251.6h0M247.7 291.2h0M199.8 258.5h0M202.6 267.1h0M232.2 286.8h0M248.1 230.2h0M229.0 231.4h0M211.4 280.5h0M229.6 285.6h0M201.4 261.8h0M217.2 285.5h0M199.4 267.9h0M213.5 233.4h0M207.3 267.8h0M205.1 266.3h0M218.6 231.0h0M203.6 262.4h0M213.4 233.9h0M269.5 283.9h0M207.9 279.3h0M221.2 281.1h0M212.7 233.8h0M240.6 290.7h0M234.0 290.2h0M223.0 284.9h0M252.9 291.9h0M221.2 229.5h0M215.1 280.8h0M206.2 264.5h0M252.8 284.6h0M268.6 277.6h0M243.5 288.6h0M257.7 231.9h0M216.6 238.9h0M200.1 266.0h0M231.8 229.8h0M209.4 248.9h0M221.8 237.2h0M203.3 273.9h0M211.3 277.9h0M214.7 283.3h0M215.9 240.3h0M226.0 289.5h0M289.3 253.3h0M208.0 249.6h0M207.7 272.2h0M263.1 285.8h0M198.2 256.5h0M229.2 234.2h0M202.1 258.8h0M204.8 270.0h0M208.9 273.8h0M212.9 276.3h0M285.4 255.1h0M223.5 281.5h0M268.3 282.7h0M208.6 281.8h0M207.1 239.0h0M220.4 232.2h0M199.8 249.6h0M271.6 280.7h0M249.9 227.4h0M204.4 277.8h0M201.1 252.1h0M207.6 267.2h0M268.6 282.1h0M212.3 242.9h0M217.0 237.0h0M232.3 226.3h0M255.8 227.6h0M236.8 234.2h0M203.3 249.2h0M217.5 283.9h0M211.2 279.8h0M233.3 226.6h0M246.5 290.0h0M205.9 264.9h0M277.6 268.0h0M276.3 259.1h0M240.2 292.1h0M208.1 270.8h0M223.9 232.3h0M213.1 282.5h0M209.0 273.7h0M213.2 282.6h0M206.3 256.3h0M210.6 275.0h0M214.1 235.7h0M214.0 281.2h0M211.0 281.3h0M269.8 277.6h0M200.1 252.1h0M203.8 273.2h0M204.6 260.6h0M228.8 287.2h0M205.0 254.2h0M268.1 280.7h0M207.5 267.3h0M223.8 287.8h0M228.5 285.0h0M207.2 270.4h0M254.8 288.1h0M213.6 241.8h0M205.4 244.2h0M235.8 291.3h0M223.5 285.9h0M208.9 241.0h0M235.2 234.1h0M285.5 274.3h0M203.7 260.3h0M261.6 239.4h0M274.8 246.6h0M275.9 252.1h0M214.4 281.9h0M205.4 276.1h0M206.4 262.7h0M234.4 288.3h0M201.1 251.1h0M270.5 240.6h0M211.5 235.2h0M223.7 230.0h0M198.9 251.1h0M258.4 236.6h0M200.1 254.8h0M228.4 283.0h0M221.6 281.5h0M276.8 263.2h0M260.9 232.3h0M255.2 291.5h0M215.6 241.9h0M252.9 284.9h0M204.8 261.3h0M235.3 286.4h0M228.0 289.3h0M196.9 262.4h0M208.4 245.2h0M206.4 252.8h0M249.7 286.0h0M221.0 281.4h0M243.9 292.3h0M259.1 229.5h0M241.3 226.6h0M203.0 265.1h0M256.6 290.4h0M251.3 233.9h0M220.7 283.7h0M255.8 285.6h0M281.8 254.4h0M217.3 241.9h0M201.1 269.4h0M215.3 234.6h0M205.8 248.5h0M206.9 245.9h0M214.7 241.6h0M256.3 233.2h0M277.3 282.2h0M269.8 283.5h0M212.2 276.1h0M204.8 248.9h0M234.3 226.9h0M200.6 271.2h0M228.3 236.2h0M202.4 242.5h0M205.4 263.9h0M213.2 280.7h0M279.0 249.1h0M248.8 228.8h0M233.6 288.2h0M219.4 237.1h0M205.7 260.0h0M196.9 256.8h0M198.5 258.2h0M272.0 280.0h0M223.8 238.7h0M271.3 286.1h0M249.7 232.6h0M276.1 233.4h0M251.8 233.7h0M201.2 263.3h0M275.8 267.8h0M206.0 277.3h0M285.1 274.1h0M209.7 278.4h0M240.2 286.2h0M209.6 281.0h0M202.7 245.6h0M233.2 284.2h0M234.6 290.1h0M236.1 229.9h0M234.5 287.6h0M271.3 238.2h0M290.9 258.2h0M197.3 260.0h0M244.1 289.0h0M200.2 267.2h0M239.4 290.0h0M198.4 264.5h0M213.8 243.3h0M237.2 285.7h0M211.8 273.7h0M218.4 283.7h0M226.2 288.3h0M218.8 285.4h0M261.6 279.7h0M204.6 252.2h0M215.8 279.4h0M232.7 231.9h0M270.2 239.1h0M268.3 277.1h0M203.9 245.8h0M209.4 246.9h0M278.7 280.5h0M251.3 283.2h0M214.4 278.1h0M211.8 233.5h0M225.2 227.5h0M207.3 240.1h0M207.3 265.1h0M225.5 282.5h0M198.2 254.5h0M198.8 256.6h0M215.0 239.1h0M248.8 287.7h0M281.4 272.5h0M203.5 243.0h0M200.8 262.4h0M211.2 283.1h0M212.0 238.6h0M223.0 287.8h0M198.7 263.8h0M216.6 238.4h0M269.1 285.4h0M228.9 227.9h0M251.9 226.6h0M219.4 280.0h0M222.6 231.4h0M242.0 285.3h0M206.2 273.8h0M204.7 240.7h0M212.8 280.3h0M261.0 281.0h0M205.6 265.1h0M215.4 283.2h0M210.5 272.8h0M228.1 286.4h0M215.7 231.8h0M205.3 274.8h0M266.1 285.9h0M207.6 249.4h0M233.9 228.1h0M225.5 284.6h0M253.1 288.1h0M277.0 267.8h0M198.9 256.6h0M240.2 229.3h0M235.6 287.7h0M247.0 285.5h0M255.9 291.1h0M203.3 265.7h0M260.1 286.6h0M201.1 269.5h0M249.2 234.5h0M208.0 253.1h0M275.9 244.5h0M245.6 292.2h0M202.9 261.8h0M256.5 227.2h0M206.1 249.0h0M209.4 246.9h0M204.8 277.7h0M199.4 271.1h0M245.0 286.2h0M204.8 243.2h0M202.6 244.2h0M226.1 288.3h0M262.1 287.5h0M213.9 285.1h0M204.1 260.0h0M201.5 272.3h0M217.6 284.5h0M242.9 289.2h0M207.4 279.6h0M219.0 285.6h0M229.2 286.1h0M215.9 283.2h0M245.5 226.2h0M207.6 262.7h0M203.8 251.5h0M253.4 236.0h0M244.5 291.5h0M276.2 253.1h0M207.8 242.7h0M212.7 235.3h0M205.9 253.9h0M282.5 260.3h0M224.9 230.6h0M200.3 272.3h0M259.1 290.6h0M203.4 274.8h0M199.0 251.0h0M262.3 240.4h0M209.6 241.0h0M224.5 236.5h0M207.7 276.3h0M207.3 240.4h0M206.7 263.6h0M208.9 275.7h0M200.4 247.4h0M279.5 270.0h0M210.2 249.0h0M240.8 230.5h0M218.5 238.6h0M202.9 260.4h0M212.7 241.9h0M202.0 267.6h0M282.5 247.7h0M224.1 232.3h0M217.1 231.4h0M224.0 235.6h0M206.8 259.0h0M198.6 250.7h0M198.7 266.1h0M237.2 230.7h0M224.3 282.5h0M248.3 231.7h0M213.8 279.8h0M214.2 243.5h0M266.0 281.6h0M219.0 233.2h0M198.1 252.5h0M214.5 237.3h0M209.5 280.5h0M228.4 232.3h0M208.5 236.6h0M197.4 258.6h0M207.3 254.9h0M210.0 278.2h0M273.0 240.2h0M268.9 245.6h0M203.7 272.2h0M253.4 228.2h0M206.9 278.6h0M204.6 258.6h0M219.8 283.0h0M201.1 260.5h0M230.2 288.4h0M210.7 238.0h0M202.8 247.8h0M224.3 237.3h0M244.2 232.4h0M227.9 283.6h0M233.7 290.9h0M231.7 228.4h0M196.9 261.4h0M204.4 248.0h0M254.1 291.8h0M260.0 283.9h0M266.5 231.8h0M238.9 234.8h0M226.3 231.8h0M203.2 243.1h0M204.3 266.4h0M236.5 290.2h0M219.0 240.6h0M206.9 257.3h0M197.3 260.7h0M205.2 246.7h0M242.3 290.8h0M201.5 242.3h0M249.7 290.6h0M250.1 291.0h0M227.6 229.6h0M206.6 241.4h0M217.5 284.7h0M201.7 268.9h0M210.2 279.2h0M220.8 237.2h0M210.1 244.8h0M211.9 234.3h0M246.1 233.5h0M216.3 239.8h0M245.5 288.8h0M228.7 288.0h0M201.6 245.7h0M251.2 290.9h0M210.2 248.5h0M258.2 281.5h0M253.4 230.0h0M230.4 228.9h0M207.3 274.3h0M214.2 276.0h0M204.5 276.7h0M205.0 247.1h0M206.2 266.9h0M204.8 271.2h0M283.6 267.2h0M279.5 273.5h0M211.7 242.5h0M240.7 232.5h0M214.5 236.9h0M222.4 280.7h0M282.4 242.4h0M281.8 274.6h0M208.2 249.8h0M230.8 234.4h0M212.6 234.8h0M270.3 243.5h0M218.1 241.6h0M204.1 269.5h0M215.5 238.1h0M205.2 267.4h0M273.5 280.4h0M206.3 279.6h0M217.3 284.1h0M234.6 286.7h0M260.4 235.4h0M202.5 264.1h0M203.6 263.9h0M202.8 273.3h0M204.0 246.3h0M217.8 241.6h0M202.6 245.9h0M274.1 245.6h0M213.3 245.4h0M258.5 285.3h0M225.1 284.8h0M207.0 274.6h0M210.0 276.1h0M228.8 232.6h0M241.6 229.5h0M233.2 286.4h0M223.5 286.3h0M207.3 250.7h0M212.2 242.0h0M210.5 242.9h0M214.5 244.3h0M239.6 229.1h0M222.3 283.6h0M252.5 226.6h0M205.9 254.9h0M204.1 260.7h0M196.4 257.0h0M253.9 286.6h0M241.6 233.3h0M208.1 250.8h0M218.7 239.2h0M250.4 287.9h0M210.1 273.8h0M203.4 249.8h0M201.4 245.5h0M282.2 265.1h0M222.2 235.9h0M231.1 233.9h0M201.8 252.9h0M198.8 259.4h0M242.3 287.6h0M209.3 248.9h0M206.4 276.3h0M197.0 261.8h0M220.5 281.4h0M255.7 287.9h0M210.0 276.2h0M228.5 284.6h0M206.6 241.2h0M248.8 230.4h0M200.6 255.2h0M250.8 287.7h0M216.4 278.1h0M214.0 236.3h0M235.3 288.0h0M205.3 255.0h0M199.3 264.7h0M252.1 229.6h0M211.9 243.0h0M235.6 231.2h0M198.1 265.3h0M280.8 249.9h0M252.1 290.0h0M227.4 234.3h0M203.1 271.5h0M222.6 232.3h0M228.6 289.8h0M270.6 274.0h0M251.1 286.0h0M232.2 226.6h0M223.6 282.7h0M265.2 239.8h0M208.2 272.9h0M206.2 274.0h0M204.7 268.2h0M225.3 234.7h0M229.6 237.2h0M221.1 288.8h0M204.3 247.2h0M199.0 261.2h0M238.0 225.1h0M207.6 279.4h0M212.4 243.9h0M235.2 287.4h0M235.9 291.0h0M274.3 284.3h0M204.0 242.0h0M207.0 247.5h0M282.6 268.4h0M270.1 236.9h0M214.4 236.4h0M204.5 262.1h0M203.8 269.6h0M239.3 292.0h0M257.9 285.5h0M198.5 257.1h0M209.2 236.7h0M224.1 285.2h0M221.8 238.1h0M209.0 248.9h0M202.9 259.8h0M200.9 260.0h0M278.9 244.8h0M203.9 274.9h0M231.1 288.0h0M220.9 283.0h0M212.3 279.9h0M269.8 235.2h0M222.1 232.5h0M235.7 228.4h0M208.3 279.8h0M288.2 250.7h0M201.8 247.8h0M208.9 244.9h0M215.7 241.1h0M203.0 242.6h0M202.2 271.4h0M244.6 291.8h0M208.9 272.1h0M219.3 286.4h0M216.4 279.9h0M277.3 268.6h0M246.4 287.7h0M204.9 274.9h0M225.6 237.6h0M209.4 236.2h0M278.3 251.7h0M219.7 280.0h0M206.7 266.0h0M226.3 232.4h0M248.8 284.8h0M247.5 292.1h0M213.2 275.3h0M199.3 248.9h0M217.0 238.4h0M212.2 282.0h0M271.7 233.5h0M257.5 287.1h0M207.1 278.4h0M225.4 287.6h0M211.7 275.1h0M231.2 228.4h0M260.7 282.9h0M252.1 235.1h0M273.7 284.2h0M230.6 286.6h0M201.8 264.0h0M258.5 286.7h0M217.9 232.8h0M197.7 255.3h0M203.4 262.4h0M244.7 224.9h0M206.4 251.9h0M205.6 240.6h0M206.9 246.7h0M227.5 229.5h0M228.6 228.2h0M211.2 277.7h0M211.6 274.6h0M208.3 240.1h0M237.0 234.1h0M197.1 257.6h0M252.0 234.6h0M208.5 272.0h0M210.6 243.1h0M236.5 289.7h0M204.2 266.1h0M211.5 245.2h0M246.2 230.8h0M268.5 281.3h0M215.4 281.1h0M216.8 231.6h0M200.4 245.8h0M260.9 234.7h0M221.8 238.7h0M217.1 285.7h0M267.6 285.8h0M202.5 273.9h0M225.5 233.9h0M265.8 236.9h0M203.1 267.4h0M214.3 242.3h0M230.5 229.7h0M254.6 228.7h0M245.0 233.3h0M245.1 230.9h0M269.9 247.0h0M212.2 278.6h0M276.6 251.3h0M211.7 278.8h0M208.3 251.6h0M233.0 233.8h0M243.9 226.4h0M203.0 243.8h0M247.9 234.9h0M237.4 232.5h0M216.3 232.4h0M216.3 236.7h0M275.9 282.9h0M226.9 286.4h0M214.8 237.0h0M199.1 252.3h0M278.3 238.6h0M207.9 274.7h0M212.0 239.4h0M221.2 288.2h0M279.6 240.3h0M268.3 236.5h0M211.3 276.2h0M218.6 284.6h0M251.0 287.3h0M232.1 226.7h0M252.5 232.3h0M220.6 239.5h0M219.4 231.0h0M203.7 257.7h0M285.4 272.7h0M254.9 227.6h0M252.2 284.9h0M274.6 249.1h0M208.1 267.0h0M206.0 268.7h0M223.5 282.5h0M219.0 233.4h0M278.8 262.0h0M200.9 270.6h0M213.1 276.1h0M269.0 237.8h0M206.1 247.4h0M226.9 286.3h0M208.7 243.1h0M201.5 245.3h0M206.1 253.4h0M229.4 233.4h0M209.0 276.8h0M196.9 257.8h0M219.7 286.1h0M276.5 272.2h0M278.6 257.5h0M264.6 280.9h0M207.7 272.1h0M200.9 250.5h0M225.2 288.4h0M219.9 288.0h0M219.5 283.9h0M198.0 267.5h0M239.3 231.8h0M198.8 258.4h0M204.0 264.0h0M213.8 235.0h0M241.6 285.5h0M226.4 233.4h0M205.9 239.6h0M255.5 289.6h0M202.4 261.6h0M237.8 229.4h0M206.6 251.6h0M257.4 231.3h0M219.1 235.1h0M203.6 254.6h0M282.1 247.4h0M220.0 235.8h0M217.8 277.8h0M230.9 285.7h0M223.9 231.4h0M262.9 238.6h0M214.3 281.1h0M216.1 285.0h0M201.9 267.5h0M221.2 234.2h0M214.0 278.8h0M199.6 264.8h0M223.9 288.3h0M197.9 266.6h0M255.7 290.2h0M234.6 234.6h0M223.0 285.9h0M235.3 234.7h0M280.7 253.1h0M225.4 237.6h0M218.1 280.4h0M204.6 270.1h0M249.5 234.8h0M261.7 284.2h0M230.7 234.6h0M219.2 283.4h0M205.6 250.4h0M207.4 249.1h0M203.5 257.3h0M204.1 272.1h0M200.9 272.0h0M242.6 290.8h0M238.3 289.8h0M219.7 283.8h0M215.7 278.7h0M216.8 281.4h0M196.9 262.8h0M220.8 238.5h0M203.0 250.8h0M250.3 225.1h0M217.8 240.0h0M239.3 286.0h0M204.2 268.8h0M202.6 274.7h0M221.4 231.8h0M218.3 239.1h0M227.1 237.1h0M228.1 235.6h0M211.9 236.6h0M265.3 228.2h0M204.5 253.3h0M253.2 287.0h0M221.1 281.1h0M256.5 230.8h0M265.7 284.0h0M231.4 287.1h0M198.5 265.7h0M203.0 261.8h0M203.7 243.4h0M264.8 280.6h0M248.0 285.4h0M199.9 266.6h0M209.0 271.0h0M224.6 231.9h0M205.8 258.4h0M205.9 260.1h0M276.2 261.3h0M228.9 285.3h0M262.7 230.4h0M212.4 243.8h0M271.0 280.3h0M281.7 270.5h0M232.2 234.1h0M271.4 272.1h0M211.7 275.3h0M260.6 289.9h0M200.5 270.5h0M234.3 285.4h0M227.7 290.4h0M202.2 247.1h0M224.6 234.6h0M281.1 240.5h0M206.0 246.7h0M251.8 289.8h0M200.3 260.9h0M278.6 260.6h0M223.7 281.8h0M213.5 282.3h0M239.5 289.0h0M202.1 243.3h0M202.3 265.3h0M198.0 251.8h0M210.2 243.2h0M218.9 282.6h0M265.6 232.1h0M216.4 235.9h0M210.7 282.0h0M209.9 274.4h0M207.2 257.8h0M272.9 246.0h0M233.2 291.8h0M201.9 264.3h0M202.0 264.1h0M265.8 233.4h0M243.6 228.4h0M262.7 240.4h0M282.0 257.5h0M260.3 287.8h0M267.5 240.3h0M226.4 285.6h0M198.9 268.1h0M214.1 240.9h0M207.6 252.5h0M206.6 275.8h0M248.9 228.9h0M267.3 234.5h0M206.5 268.7h0M201.9 259.2h0M205.0 258.6h0M230.4 236.0h0M201.8 267.7h0M264.0 241.5h0M224.7 287.6h0M217.6 230.5h0M229.1 228.9h0M205.6 257.8h0M196.3 256.0h0M222.2 285.9h0M208.8 248.6h0M284.0 260.7h0M229.3 235.6h0M264.9 285.2h0M211.2 238.0h0M220.9 282.5h0M219.1 283.5h0M210.3 241.3h0M211.3 243.7h0M254.8 233.0h0M257.2 287.9h0M262.0 280.3h0M237.6 285.7h0M229.8 230.8h0M258.1 281.3h0M202.4 250.4h0M250.3 228.0h0M270.1 233.7h0M223.0 237.2h0M220.8 237.1h0M211.2 237.9h0M226.3 284.0h0M274.8 252.7h0M231.0 229.0h0M249.2 233.3h0M199.1 259.4h0M219.4 279.3h0M242.8 226.6h0M205.1 255.2h0M272.5 285.1h0M198.9 267.5h0M218.4 278.7h0M257.9 235.4h0M202.9 271.2h0M219.5 282.6h0M199.8 261.4h0M209.0 273.5h0M211.7 236.6h0M205.2 244.5h0M206.9 279.5h0M231.0 232.0h0M200.0 262.2h0M223.7 286.1h0M210.7 246.7h0M206.7 256.2h0M244.0 289.1h0M273.7 247.6h0M229.7 286.1h0M253.0 286.8h0M263.2 238.7h0M231.5 233.2h0M240.4 225.6h0M204.7 256.4h0M225.9 234.4h0M207.2 275.5h0M204.4 255.5h0M202.6 275.5h0M211.2 237.4h0M261.4 286.8h0M210.6 280.6h0M260.6 239.7h0M257.1 230.4h0M248.7 226.1h0M234.0 287.7h0M281.3 280.0h0M213.9 235.2h0M274.6 244.8h0M233.1 285.0h0M254.6 230.8h0M204.0 247.5h0M209.3 278.7h0M254.3 287.0h0M209.4 270.2h0M205.3 263.3h0M263.2 239.0h0M210.0 245.3h0M221.2 238.7h0M226.8 231.3h0M247.7 231.6h0M288.5 249.3h0M227.8 288.9h0M210.8 280.2h0M277.2 245.7h0M232.7 232.0h0M257.1 237.4h0M200.6 252.3h0M211.2 242.9h0M209.2 239.5h0M257.4 283.5h0M281.5 262.9h0M201.6 249.3h0M210.8 274.4h0M227.9 289.9h0M216.2 282.4h0M224.4 282.4h0M275.5 279.2h0M236.0 232.9h0M206.9 241.3h0M238.5 292.5h0M213.8 280.1h0M220.2 287.7h0M209.1 243.6h0M223.6 235.2h0M234.9 225.4h0M229.3 231.3h0M206.6 276.9h0M218.0 235.6h0M215.5 242.9h0M228.5 289.6h0M229.7 288.9h0M225.8 229.2h0M201.6 262.6h0M226.3 234.8h0M228.2 229.6h0M223.7 233.9h0M205.2 264.1h0M202.2 248.8h0M230.6 287.3h0M211.6 246.6h0M214.6 283.9h0M268.1 277.2h0M278.6 242.5h0M213.7 282.7h0M266.5 278.9h0M210.0 271.5h0M208.7 237.0h0M202.9 262.3h0M256.8 286.6h0M291.9 260.9h0M209.2 238.0h0M210.1 235.0h0M216.9 242.4h0M277.1 254.3h0M206.2 267.9h0M199.0 248.5h0M248.0 230.8h0M280.2 268.3h0M199.1 250.4h0M199.5 256.4h0M205.1 257.7h0M216.5 233.6h0M227.5 287.7h0M229.6 234.7h0M227.7 285.6h0M208.9 271.5h0M250.4 229.5h0M268.7 280.7h0M252.1 285.4h0M207.1 267.1h0M253.6 288.6h0M207.3 239.8h0M233.6 288.6h0M208.4 246.3h0M197.6 260.5h0M265.0 230.7h0M281.1 243.9h0M246.3 233.3h0M203.3 251.7h0M241.9 288.0h0M235.4 234.6h0M228.4 284.2h0M203.7 266.7h0M228.8 284.8h0M204.1 252.6h0M199.7 261.5h0M201.0 257.2h0M279.0 242.6h0M253.0 286.7h0M259.9 232.5h0M245.7 287.9h0M197.5 265.9h0M260.8 283.9h0M203.5 260.5h0M212.0 275.9h0M204.4 259.1h0M231.0 234.3h0M203.9 249.9h0M222.4 232.5h0M201.0 255.4h0M249.9 231.5h0M201.8 269.1h0M273.6 232.2h0M223.3 234.3h0M217.1 237.7h0M196.9 257.6h0M227.7 285.9h0M268.1 244.7h0M234.9 231.9h0M204.9 246.0h0M246.6 288.2h0M219.1 233.4h0M204.0 247.8h0M207.5 246.7h0M198.5 249.5h0M234.1 226.6h0M212.6 275.1h0M234.8 284.7h0M205.8 259.8h0M226.1 287.9h0M230.1 235.5h0M223.5 237.4h0M209.9 244.1h0M209.6 243.1h0M216.7 231.9h0M243.5 288.1h0M198.1 253.4h0M217.2 284.4h0M239.6 227.7h0M264.4 282.3h0M209.8 238.1h0M198.0 263.6h0M232.1 287.2h0M205.7 260.5h0M253.5 229.7h0M211.1 281.6h0M205.6 265.2h0M217.2 283.0h0M201.7 246.3h0M212.4 239.8h0M203.6 262.2h0M270.0 235.0h0M268.0 236.9h0M278.2 247.4h0M257.7 235.7h0M219.4 234.1h0M227.6 232.9h0M234.0 288.0h0M247.2 292.5h0M197.4 252.6h0M218.5 282.8h0M273.4 244.5h0M212.8 284.2h0M272.1 246.9h0M247.4 288.6h0M273.4 284.0h0M253.5 285.5h0M275.5 257.8h0M250.3 291.3h0M198.0 254.6h0M231.3 233.6h0M290.0 261.6h0M204.4 254.5h0M222.1 238.1h0M254.7 233.4h0M271.0 229.7h0M221.5 232.1h0M220.9 288.1h0M197.1 252.6h0M209.9 271.8h0M202.4 247.3h0M200.1 267.9h0M208.4 272.3h0M210.1 277.0h0M206.3 275.2h0M206.3 267.3h0M260.6 234.3h0M204.9 258.7h0M208.3 272.0h0M268.6 232.5h0M215.5 280.0h0M208.7 271.9h0M277.7 236.9h0M206.0 273.3h0M214.0 281.7h0M221.2 286.0h0M208.1 249.6h0M207.3 238.1h0M248.3 229.1h0M210.5 239.6h0M212.8 275.5h0M217.8 287.2h0M216.6 285.3h0M206.1 255.9h0M210.7 249.3h0M216.1 284.7h0M279.8 271.6h0M206.4 274.9h0M225.0 233.0h0M223.6 232.0h0M207.8 243.2h0M275.9 234.3h0M218.7 279.6h0M209.8 237.1h0M210.6 273.3h0M212.3 239.0h0M281.4 260.2h0M205.6 238.9h0M207.6 239.0h0M245.3 290.0h0M216.6 278.3h0M246.4 285.6h0M211.3 277.5h0M266.7 281.4h0M216.1 276.8h0M283.6 274.5h0M224.6 236.4h0M210.4 248.9h0M199.8 255.4h0M222.2 228.9h0M252.4 286.7h0M200.1 254.0h0M205.7 253.6h0M212.0 280.6h0" stroke="#1a46a6" stroke-width="1.6" stroke-linecap="round" fill="none"/>
<rect x="280" y="235.2" width="11.1" height="10.6" fill="#1a9a3c"/>
<text x="285.4" y="230.9" font-size="11.9" letter-spacing="0.1" font-weight="bold" fill="#1a9a3c" stroke="#1a9a3c" stroke-width="0.25">FILD</text>
<path d="M101.50 214.8v6M101.50 303.3v-6M110.40 214.8v3.2M110.40 303.3v-3.2M119.30 214.8v3.2M119.30 303.3v-3.2M128.20 214.8v3.2M128.20 303.3v-3.2M137.10 214.8v3.2M137.10 303.3v-3.2M146.00 214.8v6M146.00 303.3v-6M154.90 214.8v3.2M154.90 303.3v-3.2M163.80 214.8v3.2M163.80 303.3v-3.2M172.70 214.8v3.2M172.70 303.3v-3.2M181.60 214.8v3.2M181.60 303.3v-3.2M190.50 214.8v6M190.50 303.3v-6M199.40 214.8v3.2M199.40 303.3v-3.2M208.30 214.8v3.2M208.30 303.3v-3.2M217.20 214.8v3.2M217.20 303.3v-3.2M226.10 214.8v3.2M226.10 303.3v-3.2M235.00 214.8v6M235.00 303.3v-6M243.90 214.8v3.2M243.90 303.3v-3.2M252.80 214.8v3.2M252.80 303.3v-3.2M261.70 214.8v3.2M261.70 303.3v-3.2M270.60 214.8v3.2M270.60 303.3v-3.2M279.50 214.8v6M279.50 303.3v-6M288.40 214.8v3.2M288.40 303.3v-3.2M297.30 214.8v3.2M297.30 303.3v-3.2M306.20 214.8v3.2M306.20 303.3v-3.2M315.10 214.8v3.2M315.10 303.3v-3.2M324.00 214.8v6M324.00 303.3v-6M101.5 303.30h3.2M324.0 303.30h-3.2M101.5 294.45h6M324.0 294.45h-6M101.5 285.60h3.2M324.0 285.60h-3.2M101.5 276.75h6M324.0 276.75h-6M101.5 267.90h3.2M324.0 267.90h-3.2M101.5 259.05h6M324.0 259.05h-6M101.5 250.20h3.2M324.0 250.20h-3.2M101.5 241.35h6M324.0 241.35h-6M101.5 232.50h3.2M324.0 232.50h-3.2M101.5 223.65h6M324.0 223.65h-6M101.5 214.80h3.2M324.0 214.80h-3.2" stroke="#111" stroke-width="1.1" fill="none"/>
<rect x="101.5" y="214.8" width="222.5" height="88.5" fill="none" stroke="#111" stroke-width="1.3"/>
<text x="101.50" y="320.1" font-size="12.2" font-weight="bold" fill="#231815" text-anchor="middle" stroke="#231815" stroke-width="0.25">2.5</text>
<text x="146.00" y="320.1" font-size="12.2" font-weight="bold" fill="#231815" text-anchor="middle" stroke="#231815" stroke-width="0.25">3.0</text>
<text x="190.50" y="320.1" font-size="12.2" font-weight="bold" fill="#231815" text-anchor="middle" stroke="#231815" stroke-width="0.25">3.5</text>
<text x="235.00" y="320.1" font-size="12.2" font-weight="bold" fill="#231815" text-anchor="middle" stroke="#231815" stroke-width="0.25">4.0</text>
<text x="279.50" y="320.1" font-size="12.2" font-weight="bold" fill="#231815" text-anchor="middle" stroke="#231815" stroke-width="0.25">4.5</text>
<text x="324.00" y="320.1" font-size="12.2" font-weight="bold" fill="#231815" text-anchor="middle" stroke="#231815" stroke-width="0.25">5.0</text>
<text x="97.6" y="228.65" font-size="12.2" font-weight="bold" fill="#231815" text-anchor="end" stroke="#231815" stroke-width="0.25">0.4</text>
<text x="97.6" y="246.35" font-size="12.2" font-weight="bold" fill="#231815" text-anchor="end" stroke="#231815" stroke-width="0.25">0.2</text>
<text x="97.6" y="264.05" font-size="12.2" font-weight="bold" fill="#231815" text-anchor="end" stroke="#231815" stroke-width="0.25">0.0</text>
<text x="97.6" y="281.75" font-size="12.2" font-weight="bold" fill="#231815" text-anchor="end" stroke="#231815" stroke-width="0.25">-0.2</text>
<text x="97.6" y="299.45" font-size="12.2" font-weight="bold" fill="#231815" text-anchor="end" stroke="#231815" stroke-width="0.25">-0.4</text>
<text x="197" y="344.3" font-size="12.3" font-weight="bold" fill="#231815" stroke="#231815" stroke-width="0.25"><tspan font-style="italic">R</tspan> (m)</text>
<text transform="translate(58.6 259.1) rotate(-90)" font-size="12.8" font-weight="bold" fill="#231815" text-anchor="middle" stroke="#231815" stroke-width="0.25"><tspan font-style="italic">Z</tspan> (m)</text>
</svg>
</body></html>
